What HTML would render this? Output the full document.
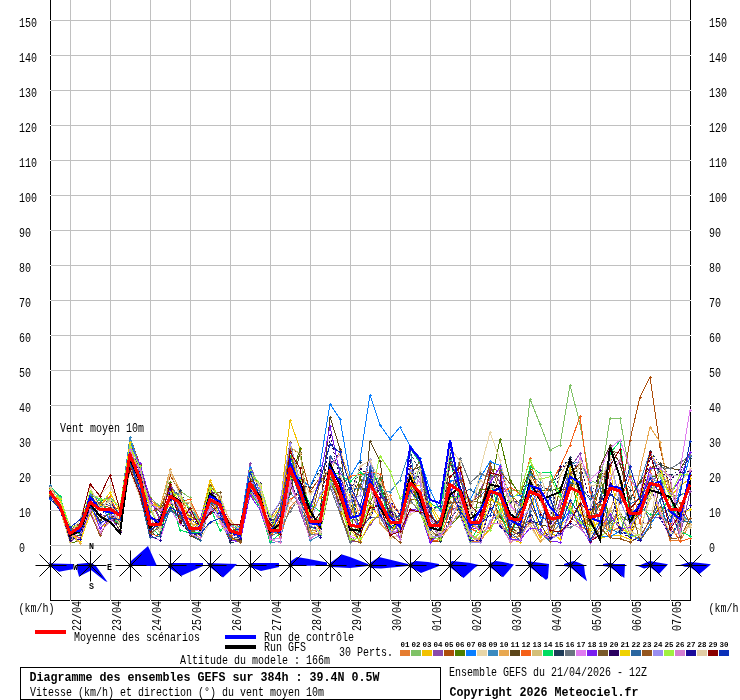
<!DOCTYPE html><html><head><meta charset="utf-8"><title>GEFS</title><style>html,body{margin:0;padding:0;background:#fff;overflow:hidden;width:740px;height:700px}svg{display:block}text{font-family:"Liberation Mono",monospace;fill:#000}</style></head><body>
<svg width="740" height="700" viewBox="0 0 740 700">
<rect x="0" y="0" width="740" height="700" fill="#fff"/>
<path d="M50 20.5H690 M50 55.5H690 M50 90.5H690 M50 125.5H690 M50 160.5H690 M50 195.5H690 M50 230.5H690 M50 265.5H690 M50 300.5H690 M50 335.5H690 M50 370.5H690 M50 405.5H690 M50 440.5H690 M50 475.5H690 M50 510.5H690 M50 545.5H690 M70.5 0V600 M110.5 0V600 M150.5 0V600 M190.5 0V600 M230.5 0V600 M270.5 0V600 M310.5 0V600 M350.5 0V600 M390.5 0V600 M430.5 0V600 M470.5 0V600 M510.5 0V600 M550.5 0V600 M590.5 0V600 M630.5 0V600 M670.5 0V600" stroke="#c0c0c0" stroke-width="1" fill="none" shape-rendering="crispEdges"/>
<path d="M50.5 0V600.5H690.5V0" stroke="#000" stroke-width="1" fill="none" shape-rendering="crispEdges"/>
<path d="M50 20h1v1h-1zM690 20h1v1h-1zM50 55h1v1h-1zM690 55h1v1h-1zM50 90h1v1h-1zM690 90h1v1h-1zM50 125h1v1h-1zM690 125h1v1h-1zM50 160h1v1h-1zM690 160h1v1h-1zM50 195h1v1h-1zM690 195h1v1h-1zM50 230h1v1h-1zM690 230h1v1h-1zM50 265h1v1h-1zM690 265h1v1h-1zM50 300h1v1h-1zM690 300h1v1h-1zM50 335h1v1h-1zM690 335h1v1h-1zM50 370h1v1h-1zM690 370h1v1h-1zM50 405h1v1h-1zM690 405h1v1h-1zM50 440h1v1h-1zM690 440h1v1h-1zM50 475h1v1h-1zM690 475h1v1h-1zM50 510h1v1h-1zM690 510h1v1h-1zM50 545h1v1h-1zM690 545h1v1h-1zM70 600h1v1h-1zM110 600h1v1h-1zM150 600h1v1h-1zM190 600h1v1h-1zM230 600h1v1h-1zM270 600h1v1h-1zM310 600h1v1h-1zM350 600h1v1h-1zM390 600h1v1h-1zM430 600h1v1h-1zM470 600h1v1h-1zM510 600h1v1h-1zM550 600h1v1h-1zM590 600h1v1h-1zM630 600h1v1h-1zM670 600h1v1h-1z" fill="#f4f4f4" shape-rendering="crispEdges"/>
<text x="19" y="552.0" font-size="12" textLength="6" lengthAdjust="spacingAndGlyphs">0</text>
<text x="709" y="552.0" font-size="12" textLength="6" lengthAdjust="spacingAndGlyphs">0</text>
<text x="19" y="517.0" font-size="12" textLength="12" lengthAdjust="spacingAndGlyphs">10</text>
<text x="709" y="517.0" font-size="12" textLength="12" lengthAdjust="spacingAndGlyphs">10</text>
<text x="19" y="482.0" font-size="12" textLength="12" lengthAdjust="spacingAndGlyphs">20</text>
<text x="709" y="482.0" font-size="12" textLength="12" lengthAdjust="spacingAndGlyphs">20</text>
<text x="19" y="447.0" font-size="12" textLength="12" lengthAdjust="spacingAndGlyphs">30</text>
<text x="709" y="447.0" font-size="12" textLength="12" lengthAdjust="spacingAndGlyphs">30</text>
<text x="19" y="412.0" font-size="12" textLength="12" lengthAdjust="spacingAndGlyphs">40</text>
<text x="709" y="412.0" font-size="12" textLength="12" lengthAdjust="spacingAndGlyphs">40</text>
<text x="19" y="377.0" font-size="12" textLength="12" lengthAdjust="spacingAndGlyphs">50</text>
<text x="709" y="377.0" font-size="12" textLength="12" lengthAdjust="spacingAndGlyphs">50</text>
<text x="19" y="342.0" font-size="12" textLength="12" lengthAdjust="spacingAndGlyphs">60</text>
<text x="709" y="342.0" font-size="12" textLength="12" lengthAdjust="spacingAndGlyphs">60</text>
<text x="19" y="307.0" font-size="12" textLength="12" lengthAdjust="spacingAndGlyphs">70</text>
<text x="709" y="307.0" font-size="12" textLength="12" lengthAdjust="spacingAndGlyphs">70</text>
<text x="19" y="272.0" font-size="12" textLength="12" lengthAdjust="spacingAndGlyphs">80</text>
<text x="709" y="272.0" font-size="12" textLength="12" lengthAdjust="spacingAndGlyphs">80</text>
<text x="19" y="237.0" font-size="12" textLength="12" lengthAdjust="spacingAndGlyphs">90</text>
<text x="709" y="237.0" font-size="12" textLength="12" lengthAdjust="spacingAndGlyphs">90</text>
<text x="19" y="202.0" font-size="12" textLength="18" lengthAdjust="spacingAndGlyphs">100</text>
<text x="709" y="202.0" font-size="12" textLength="18" lengthAdjust="spacingAndGlyphs">100</text>
<text x="19" y="167.0" font-size="12" textLength="18" lengthAdjust="spacingAndGlyphs">110</text>
<text x="709" y="167.0" font-size="12" textLength="18" lengthAdjust="spacingAndGlyphs">110</text>
<text x="19" y="132.0" font-size="12" textLength="18" lengthAdjust="spacingAndGlyphs">120</text>
<text x="709" y="132.0" font-size="12" textLength="18" lengthAdjust="spacingAndGlyphs">120</text>
<text x="19" y="97.0" font-size="12" textLength="18" lengthAdjust="spacingAndGlyphs">130</text>
<text x="709" y="97.0" font-size="12" textLength="18" lengthAdjust="spacingAndGlyphs">130</text>
<text x="19" y="62.0" font-size="12" textLength="18" lengthAdjust="spacingAndGlyphs">140</text>
<text x="709" y="62.0" font-size="12" textLength="18" lengthAdjust="spacingAndGlyphs">140</text>
<text x="19" y="27.0" font-size="12" textLength="18" lengthAdjust="spacingAndGlyphs">150</text>
<text x="709" y="27.0" font-size="12" textLength="18" lengthAdjust="spacingAndGlyphs">150</text>
<text x="60" y="432" font-size="12" textLength="84" lengthAdjust="spacingAndGlyphs">Vent moyen 10m</text>
<text x="18.5" y="611.5" font-size="12" textLength="36" lengthAdjust="spacingAndGlyphs">(km/h)</text>
<text x="708.5" y="611.5" font-size="12" textLength="36" lengthAdjust="spacingAndGlyphs">(km/h)</text>
<text transform="translate(81,631) rotate(-90)" font-size="12" textLength="30" lengthAdjust="spacingAndGlyphs">22/04</text>
<text transform="translate(121,631) rotate(-90)" font-size="12" textLength="30" lengthAdjust="spacingAndGlyphs">23/04</text>
<text transform="translate(161,631) rotate(-90)" font-size="12" textLength="30" lengthAdjust="spacingAndGlyphs">24/04</text>
<text transform="translate(201,631) rotate(-90)" font-size="12" textLength="30" lengthAdjust="spacingAndGlyphs">25/04</text>
<text transform="translate(241,631) rotate(-90)" font-size="12" textLength="30" lengthAdjust="spacingAndGlyphs">26/04</text>
<text transform="translate(281,631) rotate(-90)" font-size="12" textLength="30" lengthAdjust="spacingAndGlyphs">27/04</text>
<text transform="translate(321,631) rotate(-90)" font-size="12" textLength="30" lengthAdjust="spacingAndGlyphs">28/04</text>
<text transform="translate(361,631) rotate(-90)" font-size="12" textLength="30" lengthAdjust="spacingAndGlyphs">29/04</text>
<text transform="translate(401,631) rotate(-90)" font-size="12" textLength="30" lengthAdjust="spacingAndGlyphs">30/04</text>
<text transform="translate(441,631) rotate(-90)" font-size="12" textLength="30" lengthAdjust="spacingAndGlyphs">01/05</text>
<text transform="translate(481,631) rotate(-90)" font-size="12" textLength="30" lengthAdjust="spacingAndGlyphs">02/05</text>
<text transform="translate(521,631) rotate(-90)" font-size="12" textLength="30" lengthAdjust="spacingAndGlyphs">03/05</text>
<text transform="translate(561,631) rotate(-90)" font-size="12" textLength="30" lengthAdjust="spacingAndGlyphs">04/05</text>
<text transform="translate(601,631) rotate(-90)" font-size="12" textLength="30" lengthAdjust="spacingAndGlyphs">05/05</text>
<text transform="translate(641,631) rotate(-90)" font-size="12" textLength="30" lengthAdjust="spacingAndGlyphs">06/05</text>
<text transform="translate(681,631) rotate(-90)" font-size="12" textLength="30" lengthAdjust="spacingAndGlyphs">07/05</text>
<polyline points="50,486.8 60,500.7 70,540.2 80,534.4 90,512.1 100,515.4 110,520.3 120,513.6 130,446.5 140,464.1 150,499.4 160,507.7 170,485.1 180,508.9 190,502.2 200,523.2 210,486.1 220,497.2 230,522.1 240,540.1 250,494.9 260,503.9 270,516.9 280,537.7 290,507.0 300,496.7 310,530.2 320,531.2 330,479.5 340,474.2 350,513.1 360,510.4 370,514.9 380,498.7 390,495.6 400,515.6 410,473.0 420,507.8 430,526.9 440,519.8 450,488.0 460,515.6 470,541.3 480,541.6 490,528.5 500,513.9 510,538.8 520,535.2 530,476.0 540,512.8 550,525.6 560,503.3 570,503.6 580,526.7 590,530.4 600,500.9 610,531.8 620,527.4 630,534.7 640,499.8 650,520.4 660,508.2 670,540.6 680,540.8 690,524.2" fill="none" stroke="#e57c30" stroke-width="1" shape-rendering="crispEdges"/>
<path d="M48.5,486.8h3M50,485.3v3M58.5,500.7h3M60,499.2v3M68.5,540.2h3M70,538.7v3M78.5,534.4h3M80,532.9v3M88.5,512.1h3M90,510.6v3M98.5,515.4h3M100,513.9v3M108.5,520.3h3M110,518.8v3M118.5,513.6h3M120,512.1v3M128.5,446.5h3M130,445.0v3M138.5,464.1h3M140,462.6v3M148.5,499.4h3M150,497.9v3M158.5,507.7h3M160,506.2v3M168.5,485.1h3M170,483.6v3M178.5,508.9h3M180,507.4v3M188.5,502.2h3M190,500.7v3M198.5,523.2h3M200,521.7v3M208.5,486.1h3M210,484.6v3M218.5,497.2h3M220,495.7v3M228.5,522.1h3M230,520.6v3M238.5,540.1h3M240,538.6v3M248.5,494.9h3M250,493.4v3M258.5,503.9h3M260,502.4v3M268.5,516.9h3M270,515.4v3M278.5,537.7h3M280,536.2v3M288.5,507.0h3M290,505.5v3M298.5,496.7h3M300,495.2v3M308.5,530.2h3M310,528.7v3M318.5,531.2h3M320,529.7v3M328.5,479.5h3M330,478.0v3M338.5,474.2h3M340,472.7v3M348.5,513.1h3M350,511.6v3M358.5,510.4h3M360,508.9v3M368.5,514.9h3M370,513.4v3M378.5,498.7h3M380,497.2v3M388.5,495.6h3M390,494.1v3M398.5,515.6h3M400,514.1v3M408.5,473.0h3M410,471.5v3M418.5,507.8h3M420,506.3v3M428.5,526.9h3M430,525.4v3M438.5,519.8h3M440,518.3v3M448.5,488.0h3M450,486.5v3M458.5,515.6h3M460,514.1v3M468.5,541.3h3M470,539.8v3M478.5,541.6h3M480,540.1v3M488.5,528.5h3M490,527.0v3M498.5,513.9h3M500,512.4v3M508.5,538.8h3M510,537.3v3M518.5,535.2h3M520,533.7v3M528.5,476.0h3M530,474.5v3M538.5,512.8h3M540,511.3v3M548.5,525.6h3M550,524.1v3M558.5,503.3h3M560,501.8v3M568.5,503.6h3M570,502.1v3M578.5,526.7h3M580,525.2v3M588.5,530.4h3M590,528.9v3M598.5,500.9h3M600,499.4v3M608.5,531.8h3M610,530.3v3M618.5,527.4h3M620,525.9v3M628.5,534.7h3M630,533.2v3M638.5,499.8h3M640,498.3v3M648.5,520.4h3M650,518.9v3M658.5,508.2h3M660,506.7v3M668.5,540.6h3M670,539.1v3M678.5,540.8h3M680,539.3v3M688.5,524.2h3M690,522.7v3" stroke="#e57c30" stroke-width="1" fill="none" shape-rendering="crispEdges"/>
<polyline points="50,495.3 60,497.0 70,531.2 80,538.7 90,504.7 100,509.5 110,498.2 120,515.8 130,440.2 140,467.3 150,497.1 160,506.5 170,475.4 180,490.8 190,497.9 200,527.3 210,487.0 220,508.2 230,522.6 240,533.6 250,476.5 260,503.8 270,529.3 280,507.4 290,442.7 300,481.3 310,534.6 320,515.9 330,477.8 340,506.1 350,518.4 360,537.8 370,478.6 380,478.8 390,509.0 400,530.3 410,493.4 420,466.9 430,511.7 440,505.7 450,458.4 460,477.6 470,508.3 480,507.5 490,479.9 500,505.0 510,490.0 520,491.0 530,399.0 540,424.0 550,450.0 560,445.0 570,385.0 580,424.0 590,480.0 600,485.0 610,418.0 620,418.0 630,475.0 640,500.0 650,470.0 660,464.0 670,496.9 680,494.8 690,491.7" fill="none" stroke="#7fc266" stroke-width="1" shape-rendering="crispEdges"/>
<path d="M48.5,495.3h3M50,493.8v3M58.5,497.0h3M60,495.5v3M68.5,531.2h3M70,529.7v3M78.5,538.7h3M80,537.2v3M88.5,504.7h3M90,503.2v3M98.5,509.5h3M100,508.0v3M108.5,498.2h3M110,496.7v3M118.5,515.8h3M120,514.3v3M128.5,440.2h3M130,438.7v3M138.5,467.3h3M140,465.8v3M148.5,497.1h3M150,495.6v3M158.5,506.5h3M160,505.0v3M168.5,475.4h3M170,473.9v3M178.5,490.8h3M180,489.3v3M188.5,497.9h3M190,496.4v3M198.5,527.3h3M200,525.8v3M208.5,487.0h3M210,485.5v3M218.5,508.2h3M220,506.7v3M228.5,522.6h3M230,521.1v3M238.5,533.6h3M240,532.1v3M248.5,476.5h3M250,475.0v3M258.5,503.8h3M260,502.3v3M268.5,529.3h3M270,527.8v3M278.5,507.4h3M280,505.9v3M288.5,442.7h3M290,441.2v3M298.5,481.3h3M300,479.8v3M308.5,534.6h3M310,533.1v3M318.5,515.9h3M320,514.4v3M328.5,477.8h3M330,476.3v3M338.5,506.1h3M340,504.6v3M348.5,518.4h3M350,516.9v3M358.5,537.8h3M360,536.3v3M368.5,478.6h3M370,477.1v3M378.5,478.8h3M380,477.3v3M388.5,509.0h3M390,507.5v3M398.5,530.3h3M400,528.8v3M408.5,493.4h3M410,491.9v3M418.5,466.9h3M420,465.4v3M428.5,511.7h3M430,510.2v3M438.5,505.7h3M440,504.2v3M448.5,458.4h3M450,456.9v3M458.5,477.6h3M460,476.1v3M468.5,508.3h3M470,506.8v3M478.5,507.5h3M480,506.0v3M488.5,479.9h3M490,478.4v3M498.5,505.0h3M500,503.5v3M508.5,490.0h3M510,488.5v3M518.5,491.0h3M520,489.5v3M528.5,399.0h3M530,397.5v3M538.5,424.0h3M540,422.5v3M548.5,450.0h3M550,448.5v3M558.5,445.0h3M560,443.5v3M568.5,385.0h3M570,383.5v3M578.5,424.0h3M580,422.5v3M588.5,480.0h3M590,478.5v3M598.5,485.0h3M600,483.5v3M608.5,418.0h3M610,416.5v3M618.5,418.0h3M620,416.5v3M628.5,475.0h3M630,473.5v3M638.5,500.0h3M640,498.5v3M648.5,470.0h3M650,468.5v3M658.5,464.0h3M660,462.5v3M668.5,496.9h3M670,495.4v3M678.5,494.8h3M680,493.3v3M688.5,491.7h3M690,490.2v3" stroke="#7fc266" stroke-width="1" fill="none" shape-rendering="crispEdges"/>
<polyline points="50,486.1 60,497.8 70,526.5 80,525.4 90,506.0 100,528.4 110,520.9 120,512.6 130,447.9 140,487.0 150,533.6 160,517.0 170,504.3 180,519.1 190,527.6 200,521.4 210,480.4 220,500.4 230,538.4 240,541.5 250,486.3 260,499.8 270,520.1 280,507.4 290,420.0 300,449.0 310,534.3 320,529.8 330,466.2 340,501.8 350,494.7 360,538.0 370,505.0 380,517.8 390,524.8 400,520.5 410,485.9 420,485.6 430,505.7 440,525.6 450,506.9 460,510.6 470,535.4 480,539.0 490,530.1 500,509.4 510,538.6 520,542.5 530,517.4 540,537.8 550,526.5 560,488.6 570,507.5 580,524.1 590,511.7 600,538.5 610,535.4 620,535.6 630,539.3 640,506.6 650,485.1 660,516.1 670,496.7 680,486.0 690,478.8" fill="none" stroke="#f2c200" stroke-width="1" shape-rendering="crispEdges"/>
<path d="M48.5,486.1h3M50,484.6v3M58.5,497.8h3M60,496.3v3M68.5,526.5h3M70,525.0v3M78.5,525.4h3M80,523.9v3M88.5,506.0h3M90,504.5v3M98.5,528.4h3M100,526.9v3M108.5,520.9h3M110,519.4v3M118.5,512.6h3M120,511.1v3M128.5,447.9h3M130,446.4v3M138.5,487.0h3M140,485.5v3M148.5,533.6h3M150,532.1v3M158.5,517.0h3M160,515.5v3M168.5,504.3h3M170,502.8v3M178.5,519.1h3M180,517.6v3M188.5,527.6h3M190,526.1v3M198.5,521.4h3M200,519.9v3M208.5,480.4h3M210,478.9v3M218.5,500.4h3M220,498.9v3M228.5,538.4h3M230,536.9v3M238.5,541.5h3M240,540.0v3M248.5,486.3h3M250,484.8v3M258.5,499.8h3M260,498.3v3M268.5,520.1h3M270,518.6v3M278.5,507.4h3M280,505.9v3M288.5,420.0h3M290,418.5v3M298.5,449.0h3M300,447.5v3M308.5,534.3h3M310,532.8v3M318.5,529.8h3M320,528.3v3M328.5,466.2h3M330,464.7v3M338.5,501.8h3M340,500.3v3M348.5,494.7h3M350,493.2v3M358.5,538.0h3M360,536.5v3M368.5,505.0h3M370,503.5v3M378.5,517.8h3M380,516.3v3M388.5,524.8h3M390,523.3v3M398.5,520.5h3M400,519.0v3M408.5,485.9h3M410,484.4v3M418.5,485.6h3M420,484.1v3M428.5,505.7h3M430,504.2v3M438.5,525.6h3M440,524.1v3M448.5,506.9h3M450,505.4v3M458.5,510.6h3M460,509.1v3M468.5,535.4h3M470,533.9v3M478.5,539.0h3M480,537.5v3M488.5,530.1h3M490,528.6v3M498.5,509.4h3M500,507.9v3M508.5,538.6h3M510,537.1v3M518.5,542.5h3M520,541.0v3M528.5,517.4h3M530,515.9v3M538.5,537.8h3M540,536.3v3M548.5,526.5h3M550,525.0v3M558.5,488.6h3M560,487.1v3M568.5,507.5h3M570,506.0v3M578.5,524.1h3M580,522.6v3M588.5,511.7h3M590,510.2v3M598.5,538.5h3M600,537.0v3M608.5,535.4h3M610,533.9v3M618.5,535.6h3M620,534.1v3M628.5,539.3h3M630,537.8v3M638.5,506.6h3M640,505.1v3M648.5,485.1h3M650,483.6v3M658.5,516.1h3M660,514.6v3M668.5,496.7h3M670,495.2v3M678.5,486.0h3M680,484.5v3M688.5,478.8h3M690,477.3v3" stroke="#f2c200" stroke-width="1" fill="none" shape-rendering="crispEdges"/>
<polyline points="50,489.5 60,506.2 70,541.9 80,534.8 90,501.6 100,516.7 110,514.1 120,531.5 130,448.3 140,472.9 150,525.0 160,517.4 170,484.7 180,499.2 190,528.1 200,528.4 210,492.3 220,495.7 230,521.5 240,527.5 250,463.6 260,493.4 270,539.6 280,542.2 290,475.5 300,511.1 310,538.0 320,533.3 330,457.5 340,511.6 350,541.7 360,541.3 370,524.5 380,513.7 390,514.3 400,518.3 410,446.2 420,458.2 430,521.5 440,538.9 450,511.6 460,504.4 470,504.7 480,491.2 490,467.9 500,482.0 510,498.5 520,505.4 530,487.3 540,485.5 550,534.3 560,500.9 570,467.7 580,453.9 590,486.2 600,528.8 610,520.4 620,514.5 630,533.6 640,539.3 650,518.4 660,517.1 670,506.8 680,536.4 690,491.9" fill="none" stroke="#8a4aaa" stroke-width="1" shape-rendering="crispEdges"/>
<path d="M48.5,489.5h3M50,488.0v3M58.5,506.2h3M60,504.7v3M68.5,541.9h3M70,540.4v3M78.5,534.8h3M80,533.3v3M88.5,501.6h3M90,500.1v3M98.5,516.7h3M100,515.2v3M108.5,514.1h3M110,512.6v3M118.5,531.5h3M120,530.0v3M128.5,448.3h3M130,446.8v3M138.5,472.9h3M140,471.4v3M148.5,525.0h3M150,523.5v3M158.5,517.4h3M160,515.9v3M168.5,484.7h3M170,483.2v3M178.5,499.2h3M180,497.7v3M188.5,528.1h3M190,526.6v3M198.5,528.4h3M200,526.9v3M208.5,492.3h3M210,490.8v3M218.5,495.7h3M220,494.2v3M228.5,521.5h3M230,520.0v3M238.5,527.5h3M240,526.0v3M248.5,463.6h3M250,462.1v3M258.5,493.4h3M260,491.9v3M268.5,539.6h3M270,538.1v3M278.5,542.2h3M280,540.7v3M288.5,475.5h3M290,474.0v3M298.5,511.1h3M300,509.6v3M308.5,538.0h3M310,536.5v3M318.5,533.3h3M320,531.8v3M328.5,457.5h3M330,456.0v3M338.5,511.6h3M340,510.1v3M348.5,541.7h3M350,540.2v3M358.5,541.3h3M360,539.8v3M368.5,524.5h3M370,523.0v3M378.5,513.7h3M380,512.2v3M388.5,514.3h3M390,512.8v3M398.5,518.3h3M400,516.8v3M408.5,446.2h3M410,444.7v3M418.5,458.2h3M420,456.7v3M428.5,521.5h3M430,520.0v3M438.5,538.9h3M440,537.4v3M448.5,511.6h3M450,510.1v3M458.5,504.4h3M460,502.9v3M468.5,504.7h3M470,503.2v3M478.5,491.2h3M480,489.7v3M488.5,467.9h3M490,466.4v3M498.5,482.0h3M500,480.5v3M508.5,498.5h3M510,497.0v3M518.5,505.4h3M520,503.9v3M528.5,487.3h3M530,485.8v3M538.5,485.5h3M540,484.0v3M548.5,534.3h3M550,532.8v3M558.5,500.9h3M560,499.4v3M568.5,467.7h3M570,466.2v3M578.5,453.9h3M580,452.4v3M588.5,486.2h3M590,484.7v3M598.5,528.8h3M600,527.3v3M608.5,520.4h3M610,518.9v3M618.5,514.5h3M620,513.0v3M628.5,533.6h3M630,532.1v3M638.5,539.3h3M640,537.8v3M648.5,518.4h3M650,516.9v3M658.5,517.1h3M660,515.6v3M668.5,506.8h3M670,505.3v3M678.5,536.4h3M680,534.9v3M688.5,491.9h3M690,490.4v3" stroke="#8a4aaa" stroke-width="1" fill="none" shape-rendering="crispEdges"/>
<polyline points="50,488.9 60,504.4 70,537.5 80,537.6 90,492.0 100,504.4 110,507.8 120,509.2 130,437.3 140,464.5 150,498.8 160,520.1 170,475.0 180,492.2 190,529.9 200,535.4 210,497.2 220,521.6 230,540.4 240,541.6 250,485.0 260,505.5 270,535.2 280,525.1 290,447.4 300,454.3 310,491.6 320,477.6 330,482.7 340,500.0 350,500.5 360,479.9 370,480.6 380,486.2 390,515.1 400,521.0 410,484.8 420,505.6 430,541.3 440,541.9 450,521.6 460,460.4 470,531.3 480,515.8 490,469.5 500,470.4 510,493.9 520,504.1 530,472.8 540,493.5 550,522.3 560,518.0 570,484.9 580,483.5 590,526.2 600,484.5 610,459.5 620,500.0 630,440.0 640,397.0 650,377.0 660,447.0 670,490.0 680,503.0 690,522.9" fill="none" stroke="#ad4e0a" stroke-width="1" shape-rendering="crispEdges"/>
<path d="M48.5,488.9h3M50,487.4v3M58.5,504.4h3M60,502.9v3M68.5,537.5h3M70,536.0v3M78.5,537.6h3M80,536.1v3M88.5,492.0h3M90,490.5v3M98.5,504.4h3M100,502.9v3M108.5,507.8h3M110,506.3v3M118.5,509.2h3M120,507.7v3M128.5,437.3h3M130,435.8v3M138.5,464.5h3M140,463.0v3M148.5,498.8h3M150,497.3v3M158.5,520.1h3M160,518.6v3M168.5,475.0h3M170,473.5v3M178.5,492.2h3M180,490.7v3M188.5,529.9h3M190,528.4v3M198.5,535.4h3M200,533.9v3M208.5,497.2h3M210,495.7v3M218.5,521.6h3M220,520.1v3M228.5,540.4h3M230,538.9v3M238.5,541.6h3M240,540.1v3M248.5,485.0h3M250,483.5v3M258.5,505.5h3M260,504.0v3M268.5,535.2h3M270,533.7v3M278.5,525.1h3M280,523.6v3M288.5,447.4h3M290,445.9v3M298.5,454.3h3M300,452.8v3M308.5,491.6h3M310,490.1v3M318.5,477.6h3M320,476.1v3M328.5,482.7h3M330,481.2v3M338.5,500.0h3M340,498.5v3M348.5,500.5h3M350,499.0v3M358.5,479.9h3M360,478.4v3M368.5,480.6h3M370,479.1v3M378.5,486.2h3M380,484.7v3M388.5,515.1h3M390,513.6v3M398.5,521.0h3M400,519.5v3M408.5,484.8h3M410,483.3v3M418.5,505.6h3M420,504.1v3M428.5,541.3h3M430,539.8v3M438.5,541.9h3M440,540.4v3M448.5,521.6h3M450,520.1v3M458.5,460.4h3M460,458.9v3M468.5,531.3h3M470,529.8v3M478.5,515.8h3M480,514.3v3M488.5,469.5h3M490,468.0v3M498.5,470.4h3M500,468.9v3M508.5,493.9h3M510,492.4v3M518.5,504.1h3M520,502.6v3M528.5,472.8h3M530,471.3v3M538.5,493.5h3M540,492.0v3M548.5,522.3h3M550,520.8v3M558.5,518.0h3M560,516.5v3M568.5,484.9h3M570,483.4v3M578.5,483.5h3M580,482.0v3M588.5,526.2h3M590,524.7v3M598.5,484.5h3M600,483.0v3M608.5,459.5h3M610,458.0v3M618.5,500.0h3M620,498.5v3M628.5,440.0h3M630,438.5v3M638.5,397.0h3M640,395.5v3M648.5,377.0h3M650,375.5v3M658.5,447.0h3M660,445.5v3M668.5,490.0h3M670,488.5v3M678.5,503.0h3M680,501.5v3M688.5,522.9h3M690,521.4v3" stroke="#ad4e0a" stroke-width="1" fill="none" shape-rendering="crispEdges"/>
<polyline points="50,493.2 60,502.7 70,542.9 80,541.2 90,493.3 100,508.9 110,500.3 120,523.7 130,443.4 140,467.2 150,499.9 160,517.6 170,482.7 180,512.5 190,524.7 200,540.5 210,506.9 220,500.9 230,531.8 240,526.8 250,474.3 260,484.3 270,524.7 280,534.1 290,481.7 300,448.9 310,521.1 320,527.1 330,477.0 340,477.8 350,538.2 360,476.2 370,517.0 380,482.0 390,516.7 400,533.4 410,474.1 420,510.7 430,534.3 440,540.2 450,526.4 460,515.4 470,537.6 480,489.4 490,490.0 500,439.0 510,480.0 520,495.0 530,469.4 540,490.2 550,490.9 560,487.9 570,469.4 580,521.0 590,525.5 600,474.3 610,523.0 620,514.3 630,522.7 640,515.1 650,477.1 660,475.0 670,515.5 680,517.4 690,524.4" fill="none" stroke="#4f7f00" stroke-width="1" shape-rendering="crispEdges"/>
<path d="M48.5,493.2h3M50,491.7v3M58.5,502.7h3M60,501.2v3M68.5,542.9h3M70,541.4v3M78.5,541.2h3M80,539.7v3M88.5,493.3h3M90,491.8v3M98.5,508.9h3M100,507.4v3M108.5,500.3h3M110,498.8v3M118.5,523.7h3M120,522.2v3M128.5,443.4h3M130,441.9v3M138.5,467.2h3M140,465.7v3M148.5,499.9h3M150,498.4v3M158.5,517.6h3M160,516.1v3M168.5,482.7h3M170,481.2v3M178.5,512.5h3M180,511.0v3M188.5,524.7h3M190,523.2v3M198.5,540.5h3M200,539.0v3M208.5,506.9h3M210,505.4v3M218.5,500.9h3M220,499.4v3M228.5,531.8h3M230,530.3v3M238.5,526.8h3M240,525.3v3M248.5,474.3h3M250,472.8v3M258.5,484.3h3M260,482.8v3M268.5,524.7h3M270,523.2v3M278.5,534.1h3M280,532.6v3M288.5,481.7h3M290,480.2v3M298.5,448.9h3M300,447.4v3M308.5,521.1h3M310,519.6v3M318.5,527.1h3M320,525.6v3M328.5,477.0h3M330,475.5v3M338.5,477.8h3M340,476.3v3M348.5,538.2h3M350,536.7v3M358.5,476.2h3M360,474.7v3M368.5,517.0h3M370,515.5v3M378.5,482.0h3M380,480.5v3M388.5,516.7h3M390,515.2v3M398.5,533.4h3M400,531.9v3M408.5,474.1h3M410,472.6v3M418.5,510.7h3M420,509.2v3M428.5,534.3h3M430,532.8v3M438.5,540.2h3M440,538.7v3M448.5,526.4h3M450,524.9v3M458.5,515.4h3M460,513.9v3M468.5,537.6h3M470,536.1v3M478.5,489.4h3M480,487.9v3M488.5,490.0h3M490,488.5v3M498.5,439.0h3M500,437.5v3M508.5,480.0h3M510,478.5v3M518.5,495.0h3M520,493.5v3M528.5,469.4h3M530,467.9v3M538.5,490.2h3M540,488.7v3M548.5,490.9h3M550,489.4v3M558.5,487.9h3M560,486.4v3M568.5,469.4h3M570,467.9v3M578.5,521.0h3M580,519.5v3M588.5,525.5h3M590,524.0v3M598.5,474.3h3M600,472.8v3M608.5,523.0h3M610,521.5v3M618.5,514.3h3M620,512.8v3M628.5,522.7h3M630,521.2v3M638.5,515.1h3M640,513.6v3M648.5,477.1h3M650,475.6v3M658.5,475.0h3M660,473.5v3M668.5,515.5h3M670,514.0v3M678.5,517.4h3M680,515.9v3M688.5,524.4h3M690,522.9v3" stroke="#4f7f00" stroke-width="1" fill="none" shape-rendering="crispEdges"/>
<polyline points="50,499.7 60,499.1 70,529.5 80,524.2 90,502.2 100,503.2 110,520.6 120,513.4 130,437.0 140,473.0 150,506.1 160,528.7 170,508.5 180,516.1 190,535.0 200,537.5 210,507.8 220,513.2 230,523.9 240,526.9 250,467.6 260,491.5 270,531.7 280,533.1 290,470.0 300,478.0 310,487.0 320,465.0 330,404.0 340,419.0 350,477.0 360,460.0 370,395.0 380,425.0 390,439.0 400,427.0 410,446.0 420,458.0 430,490.0 440,510.7 450,481.3 460,478.3 470,500.6 480,478.1 490,461.6 500,465.5 510,496.4 520,495.6 530,481.1 540,517.5 550,519.8 560,525.2 570,510.0 580,521.6 590,530.9 600,536.5 610,537.0 620,531.0 630,534.2 640,539.8 650,524.8 660,510.6 670,524.9 680,489.6 690,456.7" fill="none" stroke="#0a7fff" stroke-width="1" shape-rendering="crispEdges"/>
<path d="M48.5,499.7h3M50,498.2v3M58.5,499.1h3M60,497.6v3M68.5,529.5h3M70,528.0v3M78.5,524.2h3M80,522.7v3M88.5,502.2h3M90,500.7v3M98.5,503.2h3M100,501.7v3M108.5,520.6h3M110,519.1v3M118.5,513.4h3M120,511.9v3M128.5,437.0h3M130,435.5v3M138.5,473.0h3M140,471.5v3M148.5,506.1h3M150,504.6v3M158.5,528.7h3M160,527.2v3M168.5,508.5h3M170,507.0v3M178.5,516.1h3M180,514.6v3M188.5,535.0h3M190,533.5v3M198.5,537.5h3M200,536.0v3M208.5,507.8h3M210,506.3v3M218.5,513.2h3M220,511.7v3M228.5,523.9h3M230,522.4v3M238.5,526.9h3M240,525.4v3M248.5,467.6h3M250,466.1v3M258.5,491.5h3M260,490.0v3M268.5,531.7h3M270,530.2v3M278.5,533.1h3M280,531.6v3M288.5,470.0h3M290,468.5v3M298.5,478.0h3M300,476.5v3M308.5,487.0h3M310,485.5v3M318.5,465.0h3M320,463.5v3M328.5,404.0h3M330,402.5v3M338.5,419.0h3M340,417.5v3M348.5,477.0h3M350,475.5v3M358.5,460.0h3M360,458.5v3M368.5,395.0h3M370,393.5v3M378.5,425.0h3M380,423.5v3M388.5,439.0h3M390,437.5v3M398.5,427.0h3M400,425.5v3M408.5,446.0h3M410,444.5v3M418.5,458.0h3M420,456.5v3M428.5,490.0h3M430,488.5v3M438.5,510.7h3M440,509.2v3M448.5,481.3h3M450,479.8v3M458.5,478.3h3M460,476.8v3M468.5,500.6h3M470,499.1v3M478.5,478.1h3M480,476.6v3M488.5,461.6h3M490,460.1v3M498.5,465.5h3M500,464.0v3M508.5,496.4h3M510,494.9v3M518.5,495.6h3M520,494.1v3M528.5,481.1h3M530,479.6v3M538.5,517.5h3M540,516.0v3M548.5,519.8h3M550,518.3v3M558.5,525.2h3M560,523.7v3M568.5,510.0h3M570,508.5v3M578.5,521.6h3M580,520.1v3M588.5,530.9h3M590,529.4v3M598.5,536.5h3M600,535.0v3M608.5,537.0h3M610,535.5v3M618.5,531.0h3M620,529.5v3M628.5,534.2h3M630,532.7v3M638.5,539.8h3M640,538.3v3M648.5,524.8h3M650,523.3v3M658.5,510.6h3M660,509.1v3M668.5,524.9h3M670,523.4v3M678.5,489.6h3M680,488.1v3M688.5,456.7h3M690,455.2v3" stroke="#0a7fff" stroke-width="1" fill="none" shape-rendering="crispEdges"/>
<polyline points="50,486.7 60,496.7 70,529.7 80,532.0 90,503.2 100,494.7 110,485.0 120,506.8 130,451.6 140,492.9 150,535.3 160,525.7 170,501.1 180,512.2 190,520.5 200,540.0 210,522.2 220,523.8 230,538.7 240,538.6 250,484.1 260,493.7 270,519.8 280,511.5 290,448.6 300,473.1 310,494.6 320,483.8 330,470.1 340,502.9 350,536.4 360,534.6 370,475.3 380,489.6 390,538.3 400,535.3 410,514.2 420,510.0 430,539.5 440,532.7 450,457.8 460,505.0 470,520.0 480,471.0 490,432.0 500,460.0 510,500.0 520,528.3 530,526.2 540,541.7 550,536.6 560,510.4 570,508.2 580,514.0 590,508.4 600,529.1 610,524.3 620,532.0 630,528.2 640,522.9 650,523.8 660,467.4 670,514.9 680,483.9 690,468.9" fill="none" stroke="#e8d6a8" stroke-width="1" shape-rendering="crispEdges"/>
<path d="M48.5,486.7h3M50,485.2v3M58.5,496.7h3M60,495.2v3M68.5,529.7h3M70,528.2v3M78.5,532.0h3M80,530.5v3M88.5,503.2h3M90,501.7v3M98.5,494.7h3M100,493.2v3M108.5,485.0h3M110,483.5v3M118.5,506.8h3M120,505.3v3M128.5,451.6h3M130,450.1v3M138.5,492.9h3M140,491.4v3M148.5,535.3h3M150,533.8v3M158.5,525.7h3M160,524.2v3M168.5,501.1h3M170,499.6v3M178.5,512.2h3M180,510.7v3M188.5,520.5h3M190,519.0v3M198.5,540.0h3M200,538.5v3M208.5,522.2h3M210,520.7v3M218.5,523.8h3M220,522.3v3M228.5,538.7h3M230,537.2v3M238.5,538.6h3M240,537.1v3M248.5,484.1h3M250,482.6v3M258.5,493.7h3M260,492.2v3M268.5,519.8h3M270,518.3v3M278.5,511.5h3M280,510.0v3M288.5,448.6h3M290,447.1v3M298.5,473.1h3M300,471.6v3M308.5,494.6h3M310,493.1v3M318.5,483.8h3M320,482.3v3M328.5,470.1h3M330,468.6v3M338.5,502.9h3M340,501.4v3M348.5,536.4h3M350,534.9v3M358.5,534.6h3M360,533.1v3M368.5,475.3h3M370,473.8v3M378.5,489.6h3M380,488.1v3M388.5,538.3h3M390,536.8v3M398.5,535.3h3M400,533.8v3M408.5,514.2h3M410,512.7v3M418.5,510.0h3M420,508.5v3M428.5,539.5h3M430,538.0v3M438.5,532.7h3M440,531.2v3M448.5,457.8h3M450,456.3v3M458.5,505.0h3M460,503.5v3M468.5,520.0h3M470,518.5v3M478.5,471.0h3M480,469.5v3M488.5,432.0h3M490,430.5v3M498.5,460.0h3M500,458.5v3M508.5,500.0h3M510,498.5v3M518.5,528.3h3M520,526.8v3M528.5,526.2h3M530,524.7v3M538.5,541.7h3M540,540.2v3M548.5,536.6h3M550,535.1v3M558.5,510.4h3M560,508.9v3M568.5,508.2h3M570,506.7v3M578.5,514.0h3M580,512.5v3M588.5,508.4h3M590,506.9v3M598.5,529.1h3M600,527.6v3M608.5,524.3h3M610,522.8v3M618.5,532.0h3M620,530.5v3M628.5,528.2h3M630,526.7v3M638.5,522.9h3M640,521.4v3M648.5,523.8h3M650,522.3v3M658.5,467.4h3M660,465.9v3M668.5,514.9h3M670,513.4v3M678.5,483.9h3M680,482.4v3M688.5,468.9h3M690,467.4v3" stroke="#e8d6a8" stroke-width="1" fill="none" shape-rendering="crispEdges"/>
<polyline points="50,485.5 60,497.3 70,532.4 80,527.1 90,494.1 100,500.5 110,496.7 120,509.7 130,437.3 140,467.1 150,504.0 160,505.9 170,489.6 180,495.8 190,508.4 200,520.8 210,490.3 220,518.5 230,540.5 240,539.2 250,488.9 260,504.4 270,542.2 280,541.8 290,492.6 300,503.4 310,540.6 320,535.5 330,479.8 340,496.8 350,488.0 360,488.0 370,460.0 380,490.0 390,492.0 400,480.0 410,450.0 420,513.6 430,520.9 440,521.8 450,453.3 460,492.0 470,531.4 480,525.0 490,509.9 500,521.2 510,537.4 520,501.8 530,474.3 540,482.8 550,537.5 560,522.2 570,464.3 580,461.8 590,482.9 600,525.3 610,531.1 620,502.2 630,499.8 640,482.3 650,452.1 660,475.0 670,510.7 680,512.8 690,522.1" fill="none" stroke="#3a8abf" stroke-width="1" shape-rendering="crispEdges"/>
<path d="M48.5,485.5h3M50,484.0v3M58.5,497.3h3M60,495.8v3M68.5,532.4h3M70,530.9v3M78.5,527.1h3M80,525.6v3M88.5,494.1h3M90,492.6v3M98.5,500.5h3M100,499.0v3M108.5,496.7h3M110,495.2v3M118.5,509.7h3M120,508.2v3M128.5,437.3h3M130,435.8v3M138.5,467.1h3M140,465.6v3M148.5,504.0h3M150,502.5v3M158.5,505.9h3M160,504.4v3M168.5,489.6h3M170,488.1v3M178.5,495.8h3M180,494.3v3M188.5,508.4h3M190,506.9v3M198.5,520.8h3M200,519.3v3M208.5,490.3h3M210,488.8v3M218.5,518.5h3M220,517.0v3M228.5,540.5h3M230,539.0v3M238.5,539.2h3M240,537.7v3M248.5,488.9h3M250,487.4v3M258.5,504.4h3M260,502.9v3M268.5,542.2h3M270,540.7v3M278.5,541.8h3M280,540.3v3M288.5,492.6h3M290,491.1v3M298.5,503.4h3M300,501.9v3M308.5,540.6h3M310,539.1v3M318.5,535.5h3M320,534.0v3M328.5,479.8h3M330,478.3v3M338.5,496.8h3M340,495.3v3M348.5,488.0h3M350,486.5v3M358.5,488.0h3M360,486.5v3M368.5,460.0h3M370,458.5v3M378.5,490.0h3M380,488.5v3M388.5,492.0h3M390,490.5v3M398.5,480.0h3M400,478.5v3M408.5,450.0h3M410,448.5v3M418.5,513.6h3M420,512.1v3M428.5,520.9h3M430,519.4v3M438.5,521.8h3M440,520.3v3M448.5,453.3h3M450,451.8v3M458.5,492.0h3M460,490.5v3M468.5,531.4h3M470,529.9v3M478.5,525.0h3M480,523.5v3M488.5,509.9h3M490,508.4v3M498.5,521.2h3M500,519.7v3M508.5,537.4h3M510,535.9v3M518.5,501.8h3M520,500.3v3M528.5,474.3h3M530,472.8v3M538.5,482.8h3M540,481.3v3M548.5,537.5h3M550,536.0v3M558.5,522.2h3M560,520.7v3M568.5,464.3h3M570,462.8v3M578.5,461.8h3M580,460.3v3M588.5,482.9h3M590,481.4v3M598.5,525.3h3M600,523.8v3M608.5,531.1h3M610,529.6v3M618.5,502.2h3M620,500.7v3M628.5,499.8h3M630,498.3v3M638.5,482.3h3M640,480.8v3M648.5,452.1h3M650,450.6v3M658.5,475.0h3M660,473.5v3M668.5,510.7h3M670,509.2v3M678.5,512.8h3M680,511.3v3M688.5,522.1h3M690,520.6v3" stroke="#3a8abf" stroke-width="1" fill="none" shape-rendering="crispEdges"/>
<polyline points="50,487.7 60,505.7 70,534.3 80,543.1 90,511.7 100,533.3 110,520.4 120,520.5 130,466.5 140,490.6 150,503.0 160,508.0 170,469.9 180,490.6 190,521.6 200,530.9 210,502.0 220,498.3 230,520.2 240,529.2 250,490.6 260,493.9 270,518.8 280,502.1 290,448.0 300,488.8 310,532.1 320,534.5 330,472.9 340,450.5 350,480.2 360,520.1 370,471.2 380,523.3 390,533.7 400,518.3 410,491.1 420,490.7 430,537.2 440,539.9 450,526.7 460,509.7 470,533.8 480,540.0 490,506.8 500,521.1 510,542.2 520,535.4 530,523.5 540,541.2 550,533.7 560,525.5 570,517.0 580,524.6 590,517.7 600,537.1 610,510.9 620,480.9 630,526.6 640,470.0 650,427.0 660,442.0 670,495.0 680,534.9 690,524.5" fill="none" stroke="#e8a850" stroke-width="1" shape-rendering="crispEdges"/>
<path d="M48.5,487.7h3M50,486.2v3M58.5,505.7h3M60,504.2v3M68.5,534.3h3M70,532.8v3M78.5,543.1h3M80,541.6v3M88.5,511.7h3M90,510.2v3M98.5,533.3h3M100,531.8v3M108.5,520.4h3M110,518.9v3M118.5,520.5h3M120,519.0v3M128.5,466.5h3M130,465.0v3M138.5,490.6h3M140,489.1v3M148.5,503.0h3M150,501.5v3M158.5,508.0h3M160,506.5v3M168.5,469.9h3M170,468.4v3M178.5,490.6h3M180,489.1v3M188.5,521.6h3M190,520.1v3M198.5,530.9h3M200,529.4v3M208.5,502.0h3M210,500.5v3M218.5,498.3h3M220,496.8v3M228.5,520.2h3M230,518.7v3M238.5,529.2h3M240,527.7v3M248.5,490.6h3M250,489.1v3M258.5,493.9h3M260,492.4v3M268.5,518.8h3M270,517.3v3M278.5,502.1h3M280,500.6v3M288.5,448.0h3M290,446.5v3M298.5,488.8h3M300,487.3v3M308.5,532.1h3M310,530.6v3M318.5,534.5h3M320,533.0v3M328.5,472.9h3M330,471.4v3M338.5,450.5h3M340,449.0v3M348.5,480.2h3M350,478.7v3M358.5,520.1h3M360,518.6v3M368.5,471.2h3M370,469.7v3M378.5,523.3h3M380,521.8v3M388.5,533.7h3M390,532.2v3M398.5,518.3h3M400,516.8v3M408.5,491.1h3M410,489.6v3M418.5,490.7h3M420,489.2v3M428.5,537.2h3M430,535.7v3M438.5,539.9h3M440,538.4v3M448.5,526.7h3M450,525.2v3M458.5,509.7h3M460,508.2v3M468.5,533.8h3M470,532.3v3M478.5,540.0h3M480,538.5v3M488.5,506.8h3M490,505.3v3M498.5,521.1h3M500,519.6v3M508.5,542.2h3M510,540.7v3M518.5,535.4h3M520,533.9v3M528.5,523.5h3M530,522.0v3M538.5,541.2h3M540,539.7v3M548.5,533.7h3M550,532.2v3M558.5,525.5h3M560,524.0v3M568.5,517.0h3M570,515.5v3M578.5,524.6h3M580,523.1v3M588.5,517.7h3M590,516.2v3M598.5,537.1h3M600,535.6v3M608.5,510.9h3M610,509.4v3M618.5,480.9h3M620,479.4v3M628.5,526.6h3M630,525.1v3M638.5,470.0h3M640,468.5v3M648.5,427.0h3M650,425.5v3M658.5,442.0h3M660,440.5v3M668.5,495.0h3M670,493.5v3M678.5,534.9h3M680,533.4v3M688.5,524.5h3M690,523.0v3" stroke="#e8a850" stroke-width="1" fill="none" shape-rendering="crispEdges"/>
<polyline points="50,491.1 60,503.3 70,536.7 80,537.4 90,505.8 100,520.2 110,513.1 120,526.3 130,455.0 140,465.7 150,503.8 160,511.7 170,490.9 180,515.5 190,535.3 200,540.2 210,504.6 220,515.9 230,538.0 240,540.5 250,478.5 260,483.6 270,520.6 280,516.2 290,493.8 300,452.4 310,527.8 320,513.1 330,417.0 340,449.0 350,525.0 360,541.3 370,441.0 380,461.0 390,528.6 400,522.8 410,470.9 420,466.6 430,539.5 440,533.3 450,496.7 460,495.8 470,511.1 480,528.2 490,493.1 500,517.7 510,526.3 520,534.4 530,521.4 540,524.7 550,526.8 560,490.2 570,487.7 580,477.1 590,523.3 600,466.8 610,445.6 620,464.0 630,498.8 640,481.8 650,468.0 660,463.9 670,468.7 680,469.4 690,452.7" fill="none" stroke="#5c4518" stroke-width="1" shape-rendering="crispEdges"/>
<path d="M48.5,491.1h3M50,489.6v3M58.5,503.3h3M60,501.8v3M68.5,536.7h3M70,535.2v3M78.5,537.4h3M80,535.9v3M88.5,505.8h3M90,504.3v3M98.5,520.2h3M100,518.7v3M108.5,513.1h3M110,511.6v3M118.5,526.3h3M120,524.8v3M128.5,455.0h3M130,453.5v3M138.5,465.7h3M140,464.2v3M148.5,503.8h3M150,502.3v3M158.5,511.7h3M160,510.2v3M168.5,490.9h3M170,489.4v3M178.5,515.5h3M180,514.0v3M188.5,535.3h3M190,533.8v3M198.5,540.2h3M200,538.7v3M208.5,504.6h3M210,503.1v3M218.5,515.9h3M220,514.4v3M228.5,538.0h3M230,536.5v3M238.5,540.5h3M240,539.0v3M248.5,478.5h3M250,477.0v3M258.5,483.6h3M260,482.1v3M268.5,520.6h3M270,519.1v3M278.5,516.2h3M280,514.7v3M288.5,493.8h3M290,492.3v3M298.5,452.4h3M300,450.9v3M308.5,527.8h3M310,526.3v3M318.5,513.1h3M320,511.6v3M328.5,417.0h3M330,415.5v3M338.5,449.0h3M340,447.5v3M348.5,525.0h3M350,523.5v3M358.5,541.3h3M360,539.8v3M368.5,441.0h3M370,439.5v3M378.5,461.0h3M380,459.5v3M388.5,528.6h3M390,527.1v3M398.5,522.8h3M400,521.3v3M408.5,470.9h3M410,469.4v3M418.5,466.6h3M420,465.1v3M428.5,539.5h3M430,538.0v3M438.5,533.3h3M440,531.8v3M448.5,496.7h3M450,495.2v3M458.5,495.8h3M460,494.3v3M468.5,511.1h3M470,509.6v3M478.5,528.2h3M480,526.7v3M488.5,493.1h3M490,491.6v3M498.5,517.7h3M500,516.2v3M508.5,526.3h3M510,524.8v3M518.5,534.4h3M520,532.9v3M528.5,521.4h3M530,519.9v3M538.5,524.7h3M540,523.2v3M548.5,526.8h3M550,525.3v3M558.5,490.2h3M560,488.7v3M568.5,487.7h3M570,486.2v3M578.5,477.1h3M580,475.6v3M588.5,523.3h3M590,521.8v3M598.5,466.8h3M600,465.3v3M608.5,445.6h3M610,444.1v3M618.5,464.0h3M620,462.5v3M628.5,498.8h3M630,497.3v3M638.5,481.8h3M640,480.3v3M648.5,468.0h3M650,466.5v3M658.5,463.9h3M660,462.4v3M668.5,468.7h3M670,467.2v3M678.5,469.4h3M680,467.9v3M688.5,452.7h3M690,451.2v3" stroke="#5c4518" stroke-width="1" fill="none" shape-rendering="crispEdges"/>
<polyline points="50,494.1 60,500.5 70,533.4 80,537.8 90,498.4 100,504.7 110,496.7 120,518.4 130,451.7 140,484.2 150,533.4 160,536.9 170,496.4 180,500.6 190,499.8 200,520.4 210,495.6 220,500.8 230,535.6 240,535.4 250,489.8 260,507.6 270,538.6 280,518.5 290,499.8 300,492.7 310,515.4 320,529.8 330,471.4 340,488.0 350,476.5 360,474.4 370,471.7 380,474.3 390,503.1 400,514.3 410,468.8 420,496.8 430,540.1 440,541.2 450,508.9 460,493.6 470,528.2 480,533.4 490,527.0 500,494.4 510,487.2 520,493.6 530,458.8 540,500.0 550,485.0 560,467.0 570,445.0 580,416.0 590,492.0 600,510.0 610,537.1 620,501.2 630,476.8 640,523.5 650,467.9 660,516.9 670,523.9 680,541.7 690,538.4" fill="none" stroke="#f56018" stroke-width="1" shape-rendering="crispEdges"/>
<path d="M48.5,494.1h3M50,492.6v3M58.5,500.5h3M60,499.0v3M68.5,533.4h3M70,531.9v3M78.5,537.8h3M80,536.3v3M88.5,498.4h3M90,496.9v3M98.5,504.7h3M100,503.2v3M108.5,496.7h3M110,495.2v3M118.5,518.4h3M120,516.9v3M128.5,451.7h3M130,450.2v3M138.5,484.2h3M140,482.7v3M148.5,533.4h3M150,531.9v3M158.5,536.9h3M160,535.4v3M168.5,496.4h3M170,494.9v3M178.5,500.6h3M180,499.1v3M188.5,499.8h3M190,498.3v3M198.5,520.4h3M200,518.9v3M208.5,495.6h3M210,494.1v3M218.5,500.8h3M220,499.3v3M228.5,535.6h3M230,534.1v3M238.5,535.4h3M240,533.9v3M248.5,489.8h3M250,488.3v3M258.5,507.6h3M260,506.1v3M268.5,538.6h3M270,537.1v3M278.5,518.5h3M280,517.0v3M288.5,499.8h3M290,498.3v3M298.5,492.7h3M300,491.2v3M308.5,515.4h3M310,513.9v3M318.5,529.8h3M320,528.3v3M328.5,471.4h3M330,469.9v3M338.5,488.0h3M340,486.5v3M348.5,476.5h3M350,475.0v3M358.5,474.4h3M360,472.9v3M368.5,471.7h3M370,470.2v3M378.5,474.3h3M380,472.8v3M388.5,503.1h3M390,501.6v3M398.5,514.3h3M400,512.8v3M408.5,468.8h3M410,467.3v3M418.5,496.8h3M420,495.3v3M428.5,540.1h3M430,538.6v3M438.5,541.2h3M440,539.7v3M448.5,508.9h3M450,507.4v3M458.5,493.6h3M460,492.1v3M468.5,528.2h3M470,526.7v3M478.5,533.4h3M480,531.9v3M488.5,527.0h3M490,525.5v3M498.5,494.4h3M500,492.9v3M508.5,487.2h3M510,485.7v3M518.5,493.6h3M520,492.1v3M528.5,458.8h3M530,457.3v3M538.5,500.0h3M540,498.5v3M548.5,485.0h3M550,483.5v3M558.5,467.0h3M560,465.5v3M568.5,445.0h3M570,443.5v3M578.5,416.0h3M580,414.5v3M588.5,492.0h3M590,490.5v3M598.5,510.0h3M600,508.5v3M608.5,537.1h3M610,535.6v3M618.5,501.2h3M620,499.7v3M628.5,476.8h3M630,475.3v3M638.5,523.5h3M640,522.0v3M648.5,467.9h3M650,466.4v3M658.5,516.9h3M660,515.4v3M668.5,523.9h3M670,522.4v3M678.5,541.7h3M680,540.2v3M688.5,538.4h3M690,536.9v3" stroke="#f56018" stroke-width="1" fill="none" shape-rendering="crispEdges"/>
<polyline points="50,495.4 60,509.6 70,542.3 80,524.6 90,508.1 100,509.4 110,499.4 120,523.3 130,455.0 140,466.5 150,517.0 160,533.1 170,497.9 180,502.0 190,502.6 200,521.6 210,494.6 220,518.1 230,531.3 240,537.6 250,489.4 260,489.8 270,520.9 280,529.3 290,446.7 300,453.8 310,517.0 320,474.5 330,471.8 340,474.3 350,505.1 360,530.2 370,515.4 380,478.2 390,508.5 400,526.7 410,502.7 420,507.4 430,532.7 440,534.7 450,501.9 460,511.6 470,542.3 480,536.8 490,488.0 500,524.5 510,539.8 520,526.2 530,477.1 540,500.6 550,525.8 560,475.3 570,459.2 580,499.6 590,533.5 600,531.5 610,508.6 620,529.8 630,525.0 640,529.4 650,498.8 660,473.5 670,485.3 680,511.0 690,527.8" fill="none" stroke="#d4bf78" stroke-width="1" shape-rendering="crispEdges"/>
<path d="M48.5,495.4h3M50,493.9v3M58.5,509.6h3M60,508.1v3M68.5,542.3h3M70,540.8v3M78.5,524.6h3M80,523.1v3M88.5,508.1h3M90,506.6v3M98.5,509.4h3M100,507.9v3M108.5,499.4h3M110,497.9v3M118.5,523.3h3M120,521.8v3M128.5,455.0h3M130,453.5v3M138.5,466.5h3M140,465.0v3M148.5,517.0h3M150,515.5v3M158.5,533.1h3M160,531.6v3M168.5,497.9h3M170,496.4v3M178.5,502.0h3M180,500.5v3M188.5,502.6h3M190,501.1v3M198.5,521.6h3M200,520.1v3M208.5,494.6h3M210,493.1v3M218.5,518.1h3M220,516.6v3M228.5,531.3h3M230,529.8v3M238.5,537.6h3M240,536.1v3M248.5,489.4h3M250,487.9v3M258.5,489.8h3M260,488.3v3M268.5,520.9h3M270,519.4v3M278.5,529.3h3M280,527.8v3M288.5,446.7h3M290,445.2v3M298.5,453.8h3M300,452.3v3M308.5,517.0h3M310,515.5v3M318.5,474.5h3M320,473.0v3M328.5,471.8h3M330,470.3v3M338.5,474.3h3M340,472.8v3M348.5,505.1h3M350,503.6v3M358.5,530.2h3M360,528.7v3M368.5,515.4h3M370,513.9v3M378.5,478.2h3M380,476.7v3M388.5,508.5h3M390,507.0v3M398.5,526.7h3M400,525.2v3M408.5,502.7h3M410,501.2v3M418.5,507.4h3M420,505.9v3M428.5,532.7h3M430,531.2v3M438.5,534.7h3M440,533.2v3M448.5,501.9h3M450,500.4v3M458.5,511.6h3M460,510.1v3M468.5,542.3h3M470,540.8v3M478.5,536.8h3M480,535.3v3M488.5,488.0h3M490,486.5v3M498.5,524.5h3M500,523.0v3M508.5,539.8h3M510,538.3v3M518.5,526.2h3M520,524.7v3M528.5,477.1h3M530,475.6v3M538.5,500.6h3M540,499.1v3M548.5,525.8h3M550,524.3v3M558.5,475.3h3M560,473.8v3M568.5,459.2h3M570,457.7v3M578.5,499.6h3M580,498.1v3M588.5,533.5h3M590,532.0v3M598.5,531.5h3M600,530.0v3M608.5,508.6h3M610,507.1v3M618.5,529.8h3M620,528.3v3M628.5,525.0h3M630,523.5v3M638.5,529.4h3M640,527.9v3M648.5,498.8h3M650,497.3v3M658.5,473.5h3M660,472.0v3M668.5,485.3h3M670,483.8v3M678.5,511.0h3M680,509.5v3M688.5,527.8h3M690,526.3v3" stroke="#d4bf78" stroke-width="1" fill="none" shape-rendering="crispEdges"/>
<polyline points="50,486.3 60,496.0 70,532.6 80,533.7 90,506.6 100,498.8 110,516.2 120,524.8 130,444.6 140,484.1 150,526.0 160,535.7 170,497.0 180,530.1 190,533.0 200,532.4 210,507.3 220,530.4 230,522.5 240,529.6 250,490.7 260,507.8 270,541.8 280,533.8 290,456.2 300,484.7 310,504.2 320,511.3 330,471.5 340,474.3 350,481.7 360,472.3 370,479.2 380,478.7 390,532.8 400,518.3 410,448.0 420,463.0 430,503.2 440,508.6 450,459.9 460,500.4 470,540.6 480,525.9 490,482.0 500,512.4 510,536.1 520,513.0 530,466.5 540,473.2 550,472.0 560,494.4 570,513.0 580,488.2 590,521.9 600,504.8 610,453.5 620,441.0 630,516.8 640,506.2 650,514.8 660,514.5 670,494.8 680,531.3 690,536.1" fill="none" stroke="#00dd60" stroke-width="1" shape-rendering="crispEdges"/>
<path d="M48.5,486.3h3M50,484.8v3M58.5,496.0h3M60,494.5v3M68.5,532.6h3M70,531.1v3M78.5,533.7h3M80,532.2v3M88.5,506.6h3M90,505.1v3M98.5,498.8h3M100,497.3v3M108.5,516.2h3M110,514.7v3M118.5,524.8h3M120,523.3v3M128.5,444.6h3M130,443.1v3M138.5,484.1h3M140,482.6v3M148.5,526.0h3M150,524.5v3M158.5,535.7h3M160,534.2v3M168.5,497.0h3M170,495.5v3M178.5,530.1h3M180,528.6v3M188.5,533.0h3M190,531.5v3M198.5,532.4h3M200,530.9v3M208.5,507.3h3M210,505.8v3M218.5,530.4h3M220,528.9v3M228.5,522.5h3M230,521.0v3M238.5,529.6h3M240,528.1v3M248.5,490.7h3M250,489.2v3M258.5,507.8h3M260,506.3v3M268.5,541.8h3M270,540.3v3M278.5,533.8h3M280,532.3v3M288.5,456.2h3M290,454.7v3M298.5,484.7h3M300,483.2v3M308.5,504.2h3M310,502.7v3M318.5,511.3h3M320,509.8v3M328.5,471.5h3M330,470.0v3M338.5,474.3h3M340,472.8v3M348.5,481.7h3M350,480.2v3M358.5,472.3h3M360,470.8v3M368.5,479.2h3M370,477.7v3M378.5,478.7h3M380,477.2v3M388.5,532.8h3M390,531.3v3M398.5,518.3h3M400,516.8v3M408.5,448.0h3M410,446.5v3M418.5,463.0h3M420,461.5v3M428.5,503.2h3M430,501.7v3M438.5,508.6h3M440,507.1v3M448.5,459.9h3M450,458.4v3M458.5,500.4h3M460,498.9v3M468.5,540.6h3M470,539.1v3M478.5,525.9h3M480,524.4v3M488.5,482.0h3M490,480.5v3M498.5,512.4h3M500,510.9v3M508.5,536.1h3M510,534.6v3M518.5,513.0h3M520,511.5v3M528.5,466.5h3M530,465.0v3M538.5,473.2h3M540,471.7v3M548.5,472.0h3M550,470.5v3M558.5,494.4h3M560,492.9v3M568.5,513.0h3M570,511.5v3M578.5,488.2h3M580,486.7v3M588.5,521.9h3M590,520.4v3M598.5,504.8h3M600,503.3v3M608.5,453.5h3M610,452.0v3M618.5,441.0h3M620,439.5v3M628.5,516.8h3M630,515.3v3M638.5,506.2h3M640,504.7v3M648.5,514.8h3M650,513.3v3M658.5,514.5h3M660,513.0v3M668.5,494.8h3M670,493.3v3M678.5,531.3h3M680,529.8v3M688.5,536.1h3M690,534.6v3" stroke="#00dd60" stroke-width="1" fill="none" shape-rendering="crispEdges"/>
<polyline points="50,489.6 60,506.4 70,538.2 80,535.2 90,508.6 100,499.3 110,503.0 120,515.0 130,449.8 140,467.6 150,533.8 160,534.3 170,496.1 180,490.9 190,512.3 200,529.8 210,498.6 220,504.1 230,542.7 240,541.5 250,481.3 260,488.2 270,535.4 280,514.1 290,477.8 300,486.1 310,487.4 320,470.1 330,480.8 340,504.0 350,514.7 360,462.5 370,468.6 380,486.3 390,510.1 400,516.4 410,450.9 420,473.6 430,509.6 440,541.3 450,517.8 460,507.5 470,528.7 480,511.6 490,475.3 500,493.5 510,502.2 520,500.9 530,471.2 540,486.2 550,489.8 560,469.5 570,457.7 580,473.4 590,526.6 600,497.0 610,463.0 620,460.8 630,490.1 640,508.6 650,451.6 660,464.0 670,475.8 680,469.6 690,458.8" fill="none" stroke="#1e3c58" stroke-width="1" stroke-dasharray="2 2" shape-rendering="crispEdges"/>
<path d="M48.5,489.6h3M50,488.1v3M58.5,506.4h3M60,504.9v3M68.5,538.2h3M70,536.7v3M78.5,535.2h3M80,533.7v3M88.5,508.6h3M90,507.1v3M98.5,499.3h3M100,497.8v3M108.5,503.0h3M110,501.5v3M118.5,515.0h3M120,513.5v3M128.5,449.8h3M130,448.3v3M138.5,467.6h3M140,466.1v3M148.5,533.8h3M150,532.3v3M158.5,534.3h3M160,532.8v3M168.5,496.1h3M170,494.6v3M178.5,490.9h3M180,489.4v3M188.5,512.3h3M190,510.8v3M198.5,529.8h3M200,528.3v3M208.5,498.6h3M210,497.1v3M218.5,504.1h3M220,502.6v3M228.5,542.7h3M230,541.2v3M238.5,541.5h3M240,540.0v3M248.5,481.3h3M250,479.8v3M258.5,488.2h3M260,486.7v3M268.5,535.4h3M270,533.9v3M278.5,514.1h3M280,512.6v3M288.5,477.8h3M290,476.3v3M298.5,486.1h3M300,484.6v3M308.5,487.4h3M310,485.9v3M318.5,470.1h3M320,468.6v3M328.5,480.8h3M330,479.3v3M338.5,504.0h3M340,502.5v3M348.5,514.7h3M350,513.2v3M358.5,462.5h3M360,461.0v3M368.5,468.6h3M370,467.1v3M378.5,486.3h3M380,484.8v3M388.5,510.1h3M390,508.6v3M398.5,516.4h3M400,514.9v3M408.5,450.9h3M410,449.4v3M418.5,473.6h3M420,472.1v3M428.5,509.6h3M430,508.1v3M438.5,541.3h3M440,539.8v3M448.5,517.8h3M450,516.3v3M458.5,507.5h3M460,506.0v3M468.5,528.7h3M470,527.2v3M478.5,511.6h3M480,510.1v3M488.5,475.3h3M490,473.8v3M498.5,493.5h3M500,492.0v3M508.5,502.2h3M510,500.7v3M518.5,500.9h3M520,499.4v3M528.5,471.2h3M530,469.7v3M538.5,486.2h3M540,484.7v3M548.5,489.8h3M550,488.3v3M558.5,469.5h3M560,468.0v3M568.5,457.7h3M570,456.2v3M578.5,473.4h3M580,471.9v3M588.5,526.6h3M590,525.1v3M598.5,497.0h3M600,495.5v3M608.5,463.0h3M610,461.5v3M618.5,460.8h3M620,459.3v3M628.5,490.1h3M630,488.6v3M638.5,508.6h3M640,507.1v3M648.5,451.6h3M650,450.1v3M658.5,464.0h3M660,462.5v3M668.5,475.8h3M670,474.3v3M678.5,469.6h3M680,468.1v3M688.5,458.8h3M690,457.3v3" stroke="#1e3c58" stroke-width="1" fill="none" shape-rendering="crispEdges"/>
<polyline points="50,492.3 60,503.8 70,531.1 80,525.5 90,513.5 100,503.4 110,505.5 120,525.4 130,468.3 140,497.5 150,532.1 160,528.2 170,494.2 180,493.5 190,532.8 200,521.5 210,495.6 220,512.2 230,534.8 240,530.2 250,488.0 260,490.7 270,537.0 280,531.0 290,511.3 300,497.2 310,534.9 320,533.6 330,486.7 340,513.7 350,542.9 360,531.0 370,517.0 380,517.2 390,534.2 400,522.8 410,500.2 420,512.2 430,516.1 440,537.8 450,496.7 460,458.0 470,483.0 480,473.9 490,477.0 500,475.2 510,527.1 520,527.0 530,519.9 540,533.7 550,481.7 560,528.0 570,527.4 580,522.3 590,518.6 600,535.6 610,518.9 620,494.8 630,510.8 640,515.8 650,489.9 660,467.2 670,468.9 680,462.9 690,455.2" fill="none" stroke="#6a7580" stroke-width="1" shape-rendering="crispEdges"/>
<path d="M48.5,492.3h3M50,490.8v3M58.5,503.8h3M60,502.3v3M68.5,531.1h3M70,529.6v3M78.5,525.5h3M80,524.0v3M88.5,513.5h3M90,512.0v3M98.5,503.4h3M100,501.9v3M108.5,505.5h3M110,504.0v3M118.5,525.4h3M120,523.9v3M128.5,468.3h3M130,466.8v3M138.5,497.5h3M140,496.0v3M148.5,532.1h3M150,530.6v3M158.5,528.2h3M160,526.7v3M168.5,494.2h3M170,492.7v3M178.5,493.5h3M180,492.0v3M188.5,532.8h3M190,531.3v3M198.5,521.5h3M200,520.0v3M208.5,495.6h3M210,494.1v3M218.5,512.2h3M220,510.7v3M228.5,534.8h3M230,533.3v3M238.5,530.2h3M240,528.7v3M248.5,488.0h3M250,486.5v3M258.5,490.7h3M260,489.2v3M268.5,537.0h3M270,535.5v3M278.5,531.0h3M280,529.5v3M288.5,511.3h3M290,509.8v3M298.5,497.2h3M300,495.7v3M308.5,534.9h3M310,533.4v3M318.5,533.6h3M320,532.1v3M328.5,486.7h3M330,485.2v3M338.5,513.7h3M340,512.2v3M348.5,542.9h3M350,541.4v3M358.5,531.0h3M360,529.5v3M368.5,517.0h3M370,515.5v3M378.5,517.2h3M380,515.7v3M388.5,534.2h3M390,532.7v3M398.5,522.8h3M400,521.3v3M408.5,500.2h3M410,498.7v3M418.5,512.2h3M420,510.7v3M428.5,516.1h3M430,514.6v3M438.5,537.8h3M440,536.3v3M448.5,496.7h3M450,495.2v3M458.5,458.0h3M460,456.5v3M468.5,483.0h3M470,481.5v3M478.5,473.9h3M480,472.4v3M488.5,477.0h3M490,475.5v3M498.5,475.2h3M500,473.7v3M508.5,527.1h3M510,525.6v3M518.5,527.0h3M520,525.5v3M528.5,519.9h3M530,518.4v3M538.5,533.7h3M540,532.2v3M548.5,481.7h3M550,480.2v3M558.5,528.0h3M560,526.5v3M568.5,527.4h3M570,525.9v3M578.5,522.3h3M580,520.8v3M588.5,518.6h3M590,517.1v3M598.5,535.6h3M600,534.1v3M608.5,518.9h3M610,517.4v3M618.5,494.8h3M620,493.3v3M628.5,510.8h3M630,509.3v3M638.5,515.8h3M640,514.3v3M648.5,489.9h3M650,488.4v3M658.5,467.2h3M660,465.7v3M668.5,468.9h3M670,467.4v3M678.5,462.9h3M680,461.4v3M688.5,455.2h3M690,453.7v3" stroke="#6a7580" stroke-width="1" fill="none" shape-rendering="crispEdges"/>
<polyline points="50,496.3 60,507.4 70,536.0 80,538.4 90,513.7 100,534.8 110,517.5 120,520.7 130,445.2 140,494.0 150,536.0 160,540.5 170,508.4 180,524.4 190,510.2 200,527.0 210,493.1 220,521.3 230,537.4 240,533.3 250,490.1 260,505.3 270,539.6 280,538.3 290,486.9 300,504.2 310,525.0 320,532.7 330,469.0 340,495.4 350,536.5 360,539.3 370,487.3 380,512.2 390,534.9 400,529.0 410,511.0 420,511.1 430,520.0 440,525.1 450,488.7 460,503.6 470,520.6 480,530.4 490,481.1 500,468.2 510,505.0 520,516.5 530,483.5 540,494.0 550,532.4 560,503.9 570,478.1 580,457.6 590,480.0 600,470.4 610,448.0 620,440.1 630,467.2 640,496.6 650,474.5 660,511.7 670,538.8 680,470.0 690,410.0" fill="none" stroke="#e07cf0" stroke-width="1" shape-rendering="crispEdges"/>
<path d="M48.5,496.3h3M50,494.8v3M58.5,507.4h3M60,505.9v3M68.5,536.0h3M70,534.5v3M78.5,538.4h3M80,536.9v3M88.5,513.7h3M90,512.2v3M98.5,534.8h3M100,533.3v3M108.5,517.5h3M110,516.0v3M118.5,520.7h3M120,519.2v3M128.5,445.2h3M130,443.7v3M138.5,494.0h3M140,492.5v3M148.5,536.0h3M150,534.5v3M158.5,540.5h3M160,539.0v3M168.5,508.4h3M170,506.9v3M178.5,524.4h3M180,522.9v3M188.5,510.2h3M190,508.7v3M198.5,527.0h3M200,525.5v3M208.5,493.1h3M210,491.6v3M218.5,521.3h3M220,519.8v3M228.5,537.4h3M230,535.9v3M238.5,533.3h3M240,531.8v3M248.5,490.1h3M250,488.6v3M258.5,505.3h3M260,503.8v3M268.5,539.6h3M270,538.1v3M278.5,538.3h3M280,536.8v3M288.5,486.9h3M290,485.4v3M298.5,504.2h3M300,502.7v3M308.5,525.0h3M310,523.5v3M318.5,532.7h3M320,531.2v3M328.5,469.0h3M330,467.5v3M338.5,495.4h3M340,493.9v3M348.5,536.5h3M350,535.0v3M358.5,539.3h3M360,537.8v3M368.5,487.3h3M370,485.8v3M378.5,512.2h3M380,510.7v3M388.5,534.9h3M390,533.4v3M398.5,529.0h3M400,527.5v3M408.5,511.0h3M410,509.5v3M418.5,511.1h3M420,509.6v3M428.5,520.0h3M430,518.5v3M438.5,525.1h3M440,523.6v3M448.5,488.7h3M450,487.2v3M458.5,503.6h3M460,502.1v3M468.5,520.6h3M470,519.1v3M478.5,530.4h3M480,528.9v3M488.5,481.1h3M490,479.6v3M498.5,468.2h3M500,466.7v3M508.5,505.0h3M510,503.5v3M518.5,516.5h3M520,515.0v3M528.5,483.5h3M530,482.0v3M538.5,494.0h3M540,492.5v3M548.5,532.4h3M550,530.9v3M558.5,503.9h3M560,502.4v3M568.5,478.1h3M570,476.6v3M578.5,457.6h3M580,456.1v3M588.5,480.0h3M590,478.5v3M598.5,470.4h3M600,468.9v3M608.5,448.0h3M610,446.5v3M618.5,440.1h3M620,438.6v3M628.5,467.2h3M630,465.7v3M638.5,496.6h3M640,495.1v3M648.5,474.5h3M650,473.0v3M658.5,511.7h3M660,510.2v3M668.5,538.8h3M670,537.3v3M678.5,470.0h3M680,468.5v3M688.5,410.0h3M690,408.5v3" stroke="#e07cf0" stroke-width="1" fill="none" shape-rendering="crispEdges"/>
<polyline points="50,489.0 60,506.5 70,532.1 80,530.2 90,500.3 100,528.6 110,516.9 120,530.0 130,445.9 140,463.8 150,499.0 160,518.7 170,487.4 180,513.3 190,519.2 200,520.0 210,487.1 220,512.2 230,539.4 240,542.3 250,495.1 260,509.7 270,538.9 280,508.4 290,471.3 300,485.4 310,508.8 320,477.9 330,426.0 340,474.0 350,511.1 360,530.3 370,470.2 380,494.8 390,503.7 400,539.3 410,509.3 420,510.5 430,542.4 440,533.1 450,493.7 460,472.6 470,527.4 480,529.6 490,482.6 500,466.9 510,538.9 520,540.1 530,528.1 540,529.4 550,541.4 560,542.2 570,509.5 580,525.8 590,542.0 600,527.0 610,514.5 620,529.0 630,527.4 640,507.2 650,468.4 660,468.7 670,494.8 680,479.4 690,452.4" fill="none" stroke="#7a1ef0" stroke-width="1" shape-rendering="crispEdges"/>
<path d="M48.5,489.0h3M50,487.5v3M58.5,506.5h3M60,505.0v3M68.5,532.1h3M70,530.6v3M78.5,530.2h3M80,528.7v3M88.5,500.3h3M90,498.8v3M98.5,528.6h3M100,527.1v3M108.5,516.9h3M110,515.4v3M118.5,530.0h3M120,528.5v3M128.5,445.9h3M130,444.4v3M138.5,463.8h3M140,462.3v3M148.5,499.0h3M150,497.5v3M158.5,518.7h3M160,517.2v3M168.5,487.4h3M170,485.9v3M178.5,513.3h3M180,511.8v3M188.5,519.2h3M190,517.7v3M198.5,520.0h3M200,518.5v3M208.5,487.1h3M210,485.6v3M218.5,512.2h3M220,510.7v3M228.5,539.4h3M230,537.9v3M238.5,542.3h3M240,540.8v3M248.5,495.1h3M250,493.6v3M258.5,509.7h3M260,508.2v3M268.5,538.9h3M270,537.4v3M278.5,508.4h3M280,506.9v3M288.5,471.3h3M290,469.8v3M298.5,485.4h3M300,483.9v3M308.5,508.8h3M310,507.3v3M318.5,477.9h3M320,476.4v3M328.5,426.0h3M330,424.5v3M338.5,474.0h3M340,472.5v3M348.5,511.1h3M350,509.6v3M358.5,530.3h3M360,528.8v3M368.5,470.2h3M370,468.7v3M378.5,494.8h3M380,493.3v3M388.5,503.7h3M390,502.2v3M398.5,539.3h3M400,537.8v3M408.5,509.3h3M410,507.8v3M418.5,510.5h3M420,509.0v3M428.5,542.4h3M430,540.9v3M438.5,533.1h3M440,531.6v3M448.5,493.7h3M450,492.2v3M458.5,472.6h3M460,471.1v3M468.5,527.4h3M470,525.9v3M478.5,529.6h3M480,528.1v3M488.5,482.6h3M490,481.1v3M498.5,466.9h3M500,465.4v3M508.5,538.9h3M510,537.4v3M518.5,540.1h3M520,538.6v3M528.5,528.1h3M530,526.6v3M538.5,529.4h3M540,527.9v3M548.5,541.4h3M550,539.9v3M558.5,542.2h3M560,540.7v3M568.5,509.5h3M570,508.0v3M578.5,525.8h3M580,524.3v3M588.5,542.0h3M590,540.5v3M598.5,527.0h3M600,525.5v3M608.5,514.5h3M610,513.0v3M618.5,529.0h3M620,527.5v3M628.5,527.4h3M630,525.9v3M638.5,507.2h3M640,505.7v3M648.5,468.4h3M650,466.9v3M658.5,468.7h3M660,467.2v3M668.5,494.8h3M670,493.3v3M678.5,479.4h3M680,477.9v3M688.5,452.4h3M690,450.9v3" stroke="#7a1ef0" stroke-width="1" fill="none" shape-rendering="crispEdges"/>
<polyline points="50,495.5 60,503.2 70,529.8 80,524.6 90,507.2 100,502.2 110,514.4 120,530.8 130,463.7 140,495.3 150,534.4 160,525.6 170,508.5 180,517.6 190,531.2 200,529.7 210,492.8 220,492.0 230,536.4 240,541.4 250,476.7 260,484.5 270,517.8 280,502.3 290,442.4 300,495.3 310,538.1 320,532.4 330,485.8 340,494.8 350,516.7 360,484.4 370,503.8 380,477.1 390,508.4 400,520.2 410,475.7 420,461.1 430,529.2 440,538.2 450,463.7 460,480.5 470,501.0 480,502.2 490,504.5 500,470.7 510,483.9 520,531.9 530,506.1 540,485.8 550,530.3 560,514.6 570,475.7 580,468.5 590,524.5 600,504.1 610,450.6 620,453.4 630,506.5 640,540.4 650,527.0 660,485.1 670,479.4 680,526.6 690,470.9" fill="none" stroke="#7a5a2a" stroke-width="1" shape-rendering="crispEdges"/>
<path d="M48.5,495.5h3M50,494.0v3M58.5,503.2h3M60,501.7v3M68.5,529.8h3M70,528.3v3M78.5,524.6h3M80,523.1v3M88.5,507.2h3M90,505.7v3M98.5,502.2h3M100,500.7v3M108.5,514.4h3M110,512.9v3M118.5,530.8h3M120,529.3v3M128.5,463.7h3M130,462.2v3M138.5,495.3h3M140,493.8v3M148.5,534.4h3M150,532.9v3M158.5,525.6h3M160,524.1v3M168.5,508.5h3M170,507.0v3M178.5,517.6h3M180,516.1v3M188.5,531.2h3M190,529.7v3M198.5,529.7h3M200,528.2v3M208.5,492.8h3M210,491.3v3M218.5,492.0h3M220,490.5v3M228.5,536.4h3M230,534.9v3M238.5,541.4h3M240,539.9v3M248.5,476.7h3M250,475.2v3M258.5,484.5h3M260,483.0v3M268.5,517.8h3M270,516.3v3M278.5,502.3h3M280,500.8v3M288.5,442.4h3M290,440.9v3M298.5,495.3h3M300,493.8v3M308.5,538.1h3M310,536.6v3M318.5,532.4h3M320,530.9v3M328.5,485.8h3M330,484.3v3M338.5,494.8h3M340,493.3v3M348.5,516.7h3M350,515.2v3M358.5,484.4h3M360,482.9v3M368.5,503.8h3M370,502.3v3M378.5,477.1h3M380,475.6v3M388.5,508.4h3M390,506.9v3M398.5,520.2h3M400,518.7v3M408.5,475.7h3M410,474.2v3M418.5,461.1h3M420,459.6v3M428.5,529.2h3M430,527.7v3M438.5,538.2h3M440,536.7v3M448.5,463.7h3M450,462.2v3M458.5,480.5h3M460,479.0v3M468.5,501.0h3M470,499.5v3M478.5,502.2h3M480,500.7v3M488.5,504.5h3M490,503.0v3M498.5,470.7h3M500,469.2v3M508.5,483.9h3M510,482.4v3M518.5,531.9h3M520,530.4v3M528.5,506.1h3M530,504.6v3M538.5,485.8h3M540,484.3v3M548.5,530.3h3M550,528.8v3M558.5,514.6h3M560,513.1v3M568.5,475.7h3M570,474.2v3M578.5,468.5h3M580,467.0v3M588.5,524.5h3M590,523.0v3M598.5,504.1h3M600,502.6v3M608.5,450.6h3M610,449.1v3M618.5,453.4h3M620,451.9v3M628.5,506.5h3M630,505.0v3M638.5,540.4h3M640,538.9v3M648.5,527.0h3M650,525.5v3M658.5,485.1h3M660,483.6v3M668.5,479.4h3M670,477.9v3M678.5,526.6h3M680,525.1v3M688.5,470.9h3M690,469.4v3" stroke="#7a5a2a" stroke-width="1" fill="none" shape-rendering="crispEdges"/>
<polyline points="50,491.5 60,504.0 70,540.0 80,523.5 90,499.6 100,514.7 110,508.5 120,532.9 130,454.8 140,471.6 150,518.3 160,519.4 170,500.6 180,521.4 190,534.6 200,533.8 210,489.0 220,502.6 230,540.1 240,539.3 250,483.3 260,483.9 270,519.7 280,534.4 290,483.0 300,500.3 310,521.9 320,514.3 330,435.6 340,478.5 350,492.7 360,468.1 370,476.3 380,494.2 390,512.1 400,520.1 410,466.9 420,479.0 430,512.3 440,526.9 450,458.4 460,495.4 470,508.4 480,528.3 490,499.7 500,483.6 510,515.7 520,529.0 530,515.8 540,514.6 550,523.9 560,466.1 570,467.7 580,465.5 590,499.7 600,470.2 610,483.7 620,532.3 630,537.5 640,503.3 650,458.4 660,471.1 670,479.6 680,472.1 690,471.9" fill="none" stroke="#2a0060" stroke-width="1" stroke-dasharray="2 2" shape-rendering="crispEdges"/>
<path d="M48.5,491.5h3M50,490.0v3M58.5,504.0h3M60,502.5v3M68.5,540.0h3M70,538.5v3M78.5,523.5h3M80,522.0v3M88.5,499.6h3M90,498.1v3M98.5,514.7h3M100,513.2v3M108.5,508.5h3M110,507.0v3M118.5,532.9h3M120,531.4v3M128.5,454.8h3M130,453.3v3M138.5,471.6h3M140,470.1v3M148.5,518.3h3M150,516.8v3M158.5,519.4h3M160,517.9v3M168.5,500.6h3M170,499.1v3M178.5,521.4h3M180,519.9v3M188.5,534.6h3M190,533.1v3M198.5,533.8h3M200,532.3v3M208.5,489.0h3M210,487.5v3M218.5,502.6h3M220,501.1v3M228.5,540.1h3M230,538.6v3M238.5,539.3h3M240,537.8v3M248.5,483.3h3M250,481.8v3M258.5,483.9h3M260,482.4v3M268.5,519.7h3M270,518.2v3M278.5,534.4h3M280,532.9v3M288.5,483.0h3M290,481.5v3M298.5,500.3h3M300,498.8v3M308.5,521.9h3M310,520.4v3M318.5,514.3h3M320,512.8v3M328.5,435.6h3M330,434.1v3M338.5,478.5h3M340,477.0v3M348.5,492.7h3M350,491.2v3M358.5,468.1h3M360,466.6v3M368.5,476.3h3M370,474.8v3M378.5,494.2h3M380,492.7v3M388.5,512.1h3M390,510.6v3M398.5,520.1h3M400,518.6v3M408.5,466.9h3M410,465.4v3M418.5,479.0h3M420,477.5v3M428.5,512.3h3M430,510.8v3M438.5,526.9h3M440,525.4v3M448.5,458.4h3M450,456.9v3M458.5,495.4h3M460,493.9v3M468.5,508.4h3M470,506.9v3M478.5,528.3h3M480,526.8v3M488.5,499.7h3M490,498.2v3M498.5,483.6h3M500,482.1v3M508.5,515.7h3M510,514.2v3M518.5,529.0h3M520,527.5v3M528.5,515.8h3M530,514.3v3M538.5,514.6h3M540,513.1v3M548.5,523.9h3M550,522.4v3M558.5,466.1h3M560,464.6v3M568.5,467.7h3M570,466.2v3M578.5,465.5h3M580,464.0v3M588.5,499.7h3M590,498.2v3M598.5,470.2h3M600,468.7v3M608.5,483.7h3M610,482.2v3M618.5,532.3h3M620,530.8v3M628.5,537.5h3M630,536.0v3M638.5,503.3h3M640,501.8v3M648.5,458.4h3M650,456.9v3M658.5,471.1h3M660,469.6v3M668.5,479.6h3M670,478.1v3M678.5,472.1h3M680,470.6v3M688.5,471.9h3M690,470.4v3" stroke="#2a0060" stroke-width="1" fill="none" shape-rendering="crispEdges"/>
<polyline points="50,494.1 60,499.2 70,532.7 80,541.9 90,514.3 100,505.6 110,492.7 120,511.2 130,442.7 140,481.2 150,503.2 160,506.7 170,486.8 180,502.6 190,517.3 200,528.3 210,489.6 220,520.0 230,534.2 240,531.9 250,473.4 260,486.7 270,533.2 280,507.3 290,443.0 300,491.0 310,513.7 320,497.1 330,483.1 340,509.4 350,529.2 360,541.7 370,522.1 380,513.9 390,532.5 400,520.0 410,472.4 420,495.7 430,504.6 440,519.9 450,489.4 460,509.1 470,521.9 480,532.1 490,499.0 500,504.9 510,533.1 520,510.5 530,486.6 540,535.9 550,531.8 560,539.1 570,467.0 580,510.6 590,530.0 600,521.0 610,467.6 620,529.8 630,532.0 640,500.7 650,453.3 660,468.7 670,496.2 680,515.2 690,509.5" fill="none" stroke="#f0d200" stroke-width="1" shape-rendering="crispEdges"/>
<path d="M48.5,494.1h3M50,492.6v3M58.5,499.2h3M60,497.7v3M68.5,532.7h3M70,531.2v3M78.5,541.9h3M80,540.4v3M88.5,514.3h3M90,512.8v3M98.5,505.6h3M100,504.1v3M108.5,492.7h3M110,491.2v3M118.5,511.2h3M120,509.7v3M128.5,442.7h3M130,441.2v3M138.5,481.2h3M140,479.7v3M148.5,503.2h3M150,501.7v3M158.5,506.7h3M160,505.2v3M168.5,486.8h3M170,485.3v3M178.5,502.6h3M180,501.1v3M188.5,517.3h3M190,515.8v3M198.5,528.3h3M200,526.8v3M208.5,489.6h3M210,488.1v3M218.5,520.0h3M220,518.5v3M228.5,534.2h3M230,532.7v3M238.5,531.9h3M240,530.4v3M248.5,473.4h3M250,471.9v3M258.5,486.7h3M260,485.2v3M268.5,533.2h3M270,531.7v3M278.5,507.3h3M280,505.8v3M288.5,443.0h3M290,441.5v3M298.5,491.0h3M300,489.5v3M308.5,513.7h3M310,512.2v3M318.5,497.1h3M320,495.6v3M328.5,483.1h3M330,481.6v3M338.5,509.4h3M340,507.9v3M348.5,529.2h3M350,527.7v3M358.5,541.7h3M360,540.2v3M368.5,522.1h3M370,520.6v3M378.5,513.9h3M380,512.4v3M388.5,532.5h3M390,531.0v3M398.5,520.0h3M400,518.5v3M408.5,472.4h3M410,470.9v3M418.5,495.7h3M420,494.2v3M428.5,504.6h3M430,503.1v3M438.5,519.9h3M440,518.4v3M448.5,489.4h3M450,487.9v3M458.5,509.1h3M460,507.6v3M468.5,521.9h3M470,520.4v3M478.5,532.1h3M480,530.6v3M488.5,499.0h3M490,497.5v3M498.5,504.9h3M500,503.4v3M508.5,533.1h3M510,531.6v3M518.5,510.5h3M520,509.0v3M528.5,486.6h3M530,485.1v3M538.5,535.9h3M540,534.4v3M548.5,531.8h3M550,530.3v3M558.5,539.1h3M560,537.6v3M568.5,467.0h3M570,465.5v3M578.5,510.6h3M580,509.1v3M588.5,530.0h3M590,528.5v3M598.5,521.0h3M600,519.5v3M608.5,467.6h3M610,466.1v3M618.5,529.8h3M620,528.3v3M628.5,532.0h3M630,530.5v3M638.5,500.7h3M640,499.2v3M648.5,453.3h3M650,451.8v3M658.5,468.7h3M660,467.2v3M668.5,496.2h3M670,494.7v3M678.5,515.2h3M680,513.7v3M688.5,509.5h3M690,508.0v3" stroke="#f0d200" stroke-width="1" fill="none" shape-rendering="crispEdges"/>
<polyline points="50,486.6 60,509.0 70,529.8 80,532.8 90,510.4 100,507.1 110,511.0 120,512.3 130,461.0 140,495.0 150,537.9 160,536.3 170,510.1 180,517.8 190,532.4 200,540.8 210,502.7 220,506.2 230,538.9 240,536.6 250,472.2 260,500.7 270,528.4 280,507.9 290,465.6 300,499.4 310,526.2 320,531.0 330,456.1 340,468.8 350,491.2 360,532.5 370,466.8 380,489.2 390,517.5 400,516.0 410,448.2 420,461.7 430,510.3 440,532.8 450,507.3 460,492.2 470,489.5 480,496.5 490,485.1 500,496.6 510,533.2 520,539.9 530,511.9 540,533.0 550,541.1 560,530.6 570,482.9 580,485.5 590,499.5 600,488.0 610,528.7 620,533.5 630,503.9 640,499.1 650,521.8 660,499.8 670,537.1 680,521.9 690,521.5" fill="none" stroke="#2a66a0" stroke-width="1" shape-rendering="crispEdges"/>
<path d="M48.5,486.6h3M50,485.1v3M58.5,509.0h3M60,507.5v3M68.5,529.8h3M70,528.3v3M78.5,532.8h3M80,531.3v3M88.5,510.4h3M90,508.9v3M98.5,507.1h3M100,505.6v3M108.5,511.0h3M110,509.5v3M118.5,512.3h3M120,510.8v3M128.5,461.0h3M130,459.5v3M138.5,495.0h3M140,493.5v3M148.5,537.9h3M150,536.4v3M158.5,536.3h3M160,534.8v3M168.5,510.1h3M170,508.6v3M178.5,517.8h3M180,516.3v3M188.5,532.4h3M190,530.9v3M198.5,540.8h3M200,539.3v3M208.5,502.7h3M210,501.2v3M218.5,506.2h3M220,504.7v3M228.5,538.9h3M230,537.4v3M238.5,536.6h3M240,535.1v3M248.5,472.2h3M250,470.7v3M258.5,500.7h3M260,499.2v3M268.5,528.4h3M270,526.9v3M278.5,507.9h3M280,506.4v3M288.5,465.6h3M290,464.1v3M298.5,499.4h3M300,497.9v3M308.5,526.2h3M310,524.7v3M318.5,531.0h3M320,529.5v3M328.5,456.1h3M330,454.6v3M338.5,468.8h3M340,467.3v3M348.5,491.2h3M350,489.7v3M358.5,532.5h3M360,531.0v3M368.5,466.8h3M370,465.3v3M378.5,489.2h3M380,487.7v3M388.5,517.5h3M390,516.0v3M398.5,516.0h3M400,514.5v3M408.5,448.2h3M410,446.7v3M418.5,461.7h3M420,460.2v3M428.5,510.3h3M430,508.8v3M438.5,532.8h3M440,531.3v3M448.5,507.3h3M450,505.8v3M458.5,492.2h3M460,490.7v3M468.5,489.5h3M470,488.0v3M478.5,496.5h3M480,495.0v3M488.5,485.1h3M490,483.6v3M498.5,496.6h3M500,495.1v3M508.5,533.2h3M510,531.7v3M518.5,539.9h3M520,538.4v3M528.5,511.9h3M530,510.4v3M538.5,533.0h3M540,531.5v3M548.5,541.1h3M550,539.6v3M558.5,530.6h3M560,529.1v3M568.5,482.9h3M570,481.4v3M578.5,485.5h3M580,484.0v3M588.5,499.5h3M590,498.0v3M598.5,488.0h3M600,486.5v3M608.5,528.7h3M610,527.2v3M618.5,533.5h3M620,532.0v3M628.5,503.9h3M630,502.4v3M638.5,499.1h3M640,497.6v3M648.5,521.8h3M650,520.3v3M658.5,499.8h3M660,498.3v3M668.5,537.1h3M670,535.6v3M678.5,521.9h3M680,520.4v3M688.5,521.5h3M690,520.0v3" stroke="#2a66a0" stroke-width="1" fill="none" shape-rendering="crispEdges"/>
<polyline points="50,496.2 60,509.1 70,527.3 80,524.1 90,512.0 100,535.9 110,516.4 120,521.8 130,468.2 140,478.3 150,511.9 160,508.7 170,486.0 180,516.3 190,515.1 200,523.4 210,485.4 220,497.9 230,536.4 240,542.7 250,474.2 260,505.2 270,534.8 280,514.0 290,449.6 300,495.1 310,522.3 320,481.8 330,469.2 340,511.8 350,539.2 360,542.8 370,479.7 380,505.8 390,534.3 400,542.4 410,499.4 420,500.4 430,529.8 440,518.8 450,502.4 460,502.0 470,502.9 480,495.9 490,463.6 500,492.7 510,529.6 520,536.2 530,504.6 540,522.8 550,541.2 560,508.7 570,473.7 580,463.3 590,541.2 600,527.5 610,537.8 620,538.9 630,542.0 640,536.3 650,520.4 660,507.1 670,538.9 680,537.6 690,518.1" fill="none" stroke="#94561e" stroke-width="1" shape-rendering="crispEdges"/>
<path d="M48.5,496.2h3M50,494.7v3M58.5,509.1h3M60,507.6v3M68.5,527.3h3M70,525.8v3M78.5,524.1h3M80,522.6v3M88.5,512.0h3M90,510.5v3M98.5,535.9h3M100,534.4v3M108.5,516.4h3M110,514.9v3M118.5,521.8h3M120,520.3v3M128.5,468.2h3M130,466.7v3M138.5,478.3h3M140,476.8v3M148.5,511.9h3M150,510.4v3M158.5,508.7h3M160,507.2v3M168.5,486.0h3M170,484.5v3M178.5,516.3h3M180,514.8v3M188.5,515.1h3M190,513.6v3M198.5,523.4h3M200,521.9v3M208.5,485.4h3M210,483.9v3M218.5,497.9h3M220,496.4v3M228.5,536.4h3M230,534.9v3M238.5,542.7h3M240,541.2v3M248.5,474.2h3M250,472.7v3M258.5,505.2h3M260,503.7v3M268.5,534.8h3M270,533.3v3M278.5,514.0h3M280,512.5v3M288.5,449.6h3M290,448.1v3M298.5,495.1h3M300,493.6v3M308.5,522.3h3M310,520.8v3M318.5,481.8h3M320,480.3v3M328.5,469.2h3M330,467.7v3M338.5,511.8h3M340,510.3v3M348.5,539.2h3M350,537.7v3M358.5,542.8h3M360,541.3v3M368.5,479.7h3M370,478.2v3M378.5,505.8h3M380,504.3v3M388.5,534.3h3M390,532.8v3M398.5,542.4h3M400,540.9v3M408.5,499.4h3M410,497.9v3M418.5,500.4h3M420,498.9v3M428.5,529.8h3M430,528.3v3M438.5,518.8h3M440,517.3v3M448.5,502.4h3M450,500.9v3M458.5,502.0h3M460,500.5v3M468.5,502.9h3M470,501.4v3M478.5,495.9h3M480,494.4v3M488.5,463.6h3M490,462.1v3M498.5,492.7h3M500,491.2v3M508.5,529.6h3M510,528.1v3M518.5,536.2h3M520,534.7v3M528.5,504.6h3M530,503.1v3M538.5,522.8h3M540,521.3v3M548.5,541.2h3M550,539.7v3M558.5,508.7h3M560,507.2v3M568.5,473.7h3M570,472.2v3M578.5,463.3h3M580,461.8v3M588.5,541.2h3M590,539.7v3M598.5,527.5h3M600,526.0v3M608.5,537.8h3M610,536.3v3M618.5,538.9h3M620,537.4v3M628.5,542.0h3M630,540.5v3M638.5,536.3h3M640,534.8v3M648.5,520.4h3M650,518.9v3M658.5,507.1h3M660,505.6v3M668.5,538.9h3M670,537.4v3M678.5,537.6h3M680,536.1v3M688.5,518.1h3M690,516.6v3" stroke="#94561e" stroke-width="1" fill="none" shape-rendering="crispEdges"/>
<polyline points="50,490.0 60,506.7 70,532.7 80,525.4 90,502.1 100,524.6 110,515.3 120,515.3 130,459.6 140,488.1 150,516.7 160,522.2 170,493.0 180,509.0 190,528.3 200,531.7 210,505.7 220,516.6 230,525.4 240,529.5 250,481.2 260,488.3 270,517.3 280,501.8 290,443.0 300,484.2 310,524.1 320,493.6 330,482.8 340,509.9 350,501.3 360,495.2 370,459.2 380,514.8 390,531.8 400,533.0 410,470.0 420,482.9 430,535.9 440,536.5 450,524.0 460,514.1 470,542.3 480,542.3 490,520.8 500,512.9 510,522.5 520,521.4 530,508.5 540,486.6 550,539.1 560,534.9 570,515.6 580,516.7 590,509.4 600,481.0 610,460.3 620,500.3 630,524.2 640,515.2 650,475.5 660,485.0 670,511.0 680,520.5 690,474.2" fill="none" stroke="#9a8ef0" stroke-width="1" shape-rendering="crispEdges"/>
<path d="M48.5,490.0h3M50,488.5v3M58.5,506.7h3M60,505.2v3M68.5,532.7h3M70,531.2v3M78.5,525.4h3M80,523.9v3M88.5,502.1h3M90,500.6v3M98.5,524.6h3M100,523.1v3M108.5,515.3h3M110,513.8v3M118.5,515.3h3M120,513.8v3M128.5,459.6h3M130,458.1v3M138.5,488.1h3M140,486.6v3M148.5,516.7h3M150,515.2v3M158.5,522.2h3M160,520.7v3M168.5,493.0h3M170,491.5v3M178.5,509.0h3M180,507.5v3M188.5,528.3h3M190,526.8v3M198.5,531.7h3M200,530.2v3M208.5,505.7h3M210,504.2v3M218.5,516.6h3M220,515.1v3M228.5,525.4h3M230,523.9v3M238.5,529.5h3M240,528.0v3M248.5,481.2h3M250,479.7v3M258.5,488.3h3M260,486.8v3M268.5,517.3h3M270,515.8v3M278.5,501.8h3M280,500.3v3M288.5,443.0h3M290,441.5v3M298.5,484.2h3M300,482.7v3M308.5,524.1h3M310,522.6v3M318.5,493.6h3M320,492.1v3M328.5,482.8h3M330,481.3v3M338.5,509.9h3M340,508.4v3M348.5,501.3h3M350,499.8v3M358.5,495.2h3M360,493.7v3M368.5,459.2h3M370,457.7v3M378.5,514.8h3M380,513.3v3M388.5,531.8h3M390,530.3v3M398.5,533.0h3M400,531.5v3M408.5,470.0h3M410,468.5v3M418.5,482.9h3M420,481.4v3M428.5,535.9h3M430,534.4v3M438.5,536.5h3M440,535.0v3M448.5,524.0h3M450,522.5v3M458.5,514.1h3M460,512.6v3M468.5,542.3h3M470,540.8v3M478.5,542.3h3M480,540.8v3M488.5,520.8h3M490,519.3v3M498.5,512.9h3M500,511.4v3M508.5,522.5h3M510,521.0v3M518.5,521.4h3M520,519.9v3M528.5,508.5h3M530,507.0v3M538.5,486.6h3M540,485.1v3M548.5,539.1h3M550,537.6v3M558.5,534.9h3M560,533.4v3M568.5,515.6h3M570,514.1v3M578.5,516.7h3M580,515.2v3M588.5,509.4h3M590,507.9v3M598.5,481.0h3M600,479.5v3M608.5,460.3h3M610,458.8v3M618.5,500.3h3M620,498.8v3M628.5,524.2h3M630,522.7v3M638.5,515.2h3M640,513.7v3M648.5,475.5h3M650,474.0v3M658.5,485.0h3M660,483.5v3M668.5,511.0h3M670,509.5v3M678.5,520.5h3M680,519.0v3M688.5,474.2h3M690,472.7v3" stroke="#9a8ef0" stroke-width="1" fill="none" shape-rendering="crispEdges"/>
<polyline points="50,489.9 60,498.4 70,526.1 80,527.2 90,491.8 100,499.8 110,499.0 120,506.6 130,446.4 140,466.8 150,509.1 160,527.4 170,491.9 180,496.3 190,509.2 200,523.3 210,487.2 220,495.7 230,532.0 240,536.1 250,470.9 260,484.2 270,516.6 280,532.5 290,478.3 300,480.8 310,517.6 320,534.6 330,481.8 340,496.8 350,539.6 360,538.6 370,498.3 380,456.0 390,471.0 400,498.0 410,486.7 420,512.6 430,536.6 440,539.3 450,497.1 460,497.8 470,541.6 480,533.0 490,530.2 500,511.9 510,500.4 520,492.0 530,460.7 540,479.6 550,476.6 560,497.8 570,509.2 580,522.9 590,526.8 600,537.5 610,528.1 620,518.3 630,537.4 640,534.3 650,492.4 660,475.2 670,496.0 680,474.8 690,474.4" fill="none" stroke="#a0f040" stroke-width="1" shape-rendering="crispEdges"/>
<path d="M48.5,489.9h3M50,488.4v3M58.5,498.4h3M60,496.9v3M68.5,526.1h3M70,524.6v3M78.5,527.2h3M80,525.7v3M88.5,491.8h3M90,490.3v3M98.5,499.8h3M100,498.3v3M108.5,499.0h3M110,497.5v3M118.5,506.6h3M120,505.1v3M128.5,446.4h3M130,444.9v3M138.5,466.8h3M140,465.3v3M148.5,509.1h3M150,507.6v3M158.5,527.4h3M160,525.9v3M168.5,491.9h3M170,490.4v3M178.5,496.3h3M180,494.8v3M188.5,509.2h3M190,507.7v3M198.5,523.3h3M200,521.8v3M208.5,487.2h3M210,485.7v3M218.5,495.7h3M220,494.2v3M228.5,532.0h3M230,530.5v3M238.5,536.1h3M240,534.6v3M248.5,470.9h3M250,469.4v3M258.5,484.2h3M260,482.7v3M268.5,516.6h3M270,515.1v3M278.5,532.5h3M280,531.0v3M288.5,478.3h3M290,476.8v3M298.5,480.8h3M300,479.3v3M308.5,517.6h3M310,516.1v3M318.5,534.6h3M320,533.1v3M328.5,481.8h3M330,480.3v3M338.5,496.8h3M340,495.3v3M348.5,539.6h3M350,538.1v3M358.5,538.6h3M360,537.1v3M368.5,498.3h3M370,496.8v3M378.5,456.0h3M380,454.5v3M388.5,471.0h3M390,469.5v3M398.5,498.0h3M400,496.5v3M408.5,486.7h3M410,485.2v3M418.5,512.6h3M420,511.1v3M428.5,536.6h3M430,535.1v3M438.5,539.3h3M440,537.8v3M448.5,497.1h3M450,495.6v3M458.5,497.8h3M460,496.3v3M468.5,541.6h3M470,540.1v3M478.5,533.0h3M480,531.5v3M488.5,530.2h3M490,528.7v3M498.5,511.9h3M500,510.4v3M508.5,500.4h3M510,498.9v3M518.5,492.0h3M520,490.5v3M528.5,460.7h3M530,459.2v3M538.5,479.6h3M540,478.1v3M548.5,476.6h3M550,475.1v3M558.5,497.8h3M560,496.3v3M568.5,509.2h3M570,507.7v3M578.5,522.9h3M580,521.4v3M588.5,526.8h3M590,525.3v3M598.5,537.5h3M600,536.0v3M608.5,528.1h3M610,526.6v3M618.5,518.3h3M620,516.8v3M628.5,537.4h3M630,535.9v3M638.5,534.3h3M640,532.8v3M648.5,492.4h3M650,490.9v3M658.5,475.2h3M660,473.7v3M668.5,496.0h3M670,494.5v3M678.5,474.8h3M680,473.3v3M688.5,474.4h3M690,472.9v3" stroke="#a0f040" stroke-width="1" fill="none" shape-rendering="crispEdges"/>
<polyline points="50,492.2 60,504.2 70,537.8 80,531.5 90,510.7 100,532.5 110,521.8 120,511.0 130,449.6 140,470.6 150,503.1 160,510.1 170,502.1 180,508.3 190,534.2 200,537.5 210,508.1 220,519.9 230,533.8 240,530.5 250,483.8 260,506.2 270,539.5 280,542.6 290,481.9 300,507.8 310,538.9 320,531.8 330,465.8 340,454.7 350,485.2 360,509.7 370,485.5 380,517.4 390,526.5 400,539.1 410,496.1 420,478.0 430,523.0 440,535.9 450,523.9 460,497.7 470,535.6 480,541.2 490,523.0 500,524.1 510,541.4 520,539.9 530,518.4 540,534.2 550,537.9 560,534.3 570,523.0 580,528.2 590,539.9 600,534.7 610,479.3 620,459.6 630,479.8 640,491.7 650,453.7 660,468.7 670,476.1 680,534.3 690,470.9" fill="none" stroke="#d47ed0" stroke-width="1" shape-rendering="crispEdges"/>
<path d="M48.5,492.2h3M50,490.7v3M58.5,504.2h3M60,502.7v3M68.5,537.8h3M70,536.3v3M78.5,531.5h3M80,530.0v3M88.5,510.7h3M90,509.2v3M98.5,532.5h3M100,531.0v3M108.5,521.8h3M110,520.3v3M118.5,511.0h3M120,509.5v3M128.5,449.6h3M130,448.1v3M138.5,470.6h3M140,469.1v3M148.5,503.1h3M150,501.6v3M158.5,510.1h3M160,508.6v3M168.5,502.1h3M170,500.6v3M178.5,508.3h3M180,506.8v3M188.5,534.2h3M190,532.7v3M198.5,537.5h3M200,536.0v3M208.5,508.1h3M210,506.6v3M218.5,519.9h3M220,518.4v3M228.5,533.8h3M230,532.3v3M238.5,530.5h3M240,529.0v3M248.5,483.8h3M250,482.3v3M258.5,506.2h3M260,504.7v3M268.5,539.5h3M270,538.0v3M278.5,542.6h3M280,541.1v3M288.5,481.9h3M290,480.4v3M298.5,507.8h3M300,506.3v3M308.5,538.9h3M310,537.4v3M318.5,531.8h3M320,530.3v3M328.5,465.8h3M330,464.3v3M338.5,454.7h3M340,453.2v3M348.5,485.2h3M350,483.7v3M358.5,509.7h3M360,508.2v3M368.5,485.5h3M370,484.0v3M378.5,517.4h3M380,515.9v3M388.5,526.5h3M390,525.0v3M398.5,539.1h3M400,537.6v3M408.5,496.1h3M410,494.6v3M418.5,478.0h3M420,476.5v3M428.5,523.0h3M430,521.5v3M438.5,535.9h3M440,534.4v3M448.5,523.9h3M450,522.4v3M458.5,497.7h3M460,496.2v3M468.5,535.6h3M470,534.1v3M478.5,541.2h3M480,539.7v3M488.5,523.0h3M490,521.5v3M498.5,524.1h3M500,522.6v3M508.5,541.4h3M510,539.9v3M518.5,539.9h3M520,538.4v3M528.5,518.4h3M530,516.9v3M538.5,534.2h3M540,532.7v3M548.5,537.9h3M550,536.4v3M558.5,534.3h3M560,532.8v3M568.5,523.0h3M570,521.5v3M578.5,528.2h3M580,526.7v3M588.5,539.9h3M590,538.4v3M598.5,534.7h3M600,533.2v3M608.5,479.3h3M610,477.8v3M618.5,459.6h3M620,458.1v3M628.5,479.8h3M630,478.3v3M638.5,491.7h3M640,490.2v3M648.5,453.7h3M650,452.2v3M658.5,468.7h3M660,467.2v3M668.5,476.1h3M670,474.6v3M678.5,534.3h3M680,532.8v3M688.5,470.9h3M690,469.4v3" stroke="#d47ed0" stroke-width="1" fill="none" shape-rendering="crispEdges"/>
<polyline points="50,497.7 60,510.1 70,537.6 80,539.9 90,506.5 100,509.1 110,501.5 120,516.4 130,458.3 140,488.4 150,535.3 160,540.5 170,488.5 180,513.7 190,519.6 200,525.2 210,512.2 220,513.8 230,532.6 240,538.0 250,490.4 260,498.2 270,519.4 280,528.7 290,459.5 300,497.7 310,517.6 320,537.6 330,464.0 340,451.7 350,487.1 360,528.4 370,517.8 380,497.3 390,500.5 400,514.9 410,460.0 420,506.4 430,508.2 440,506.6 450,449.6 460,512.1 470,540.6 480,540.7 490,508.3 500,526.5 510,536.1 520,532.1 530,520.5 540,523.8 550,538.6 560,533.1 570,523.4 580,504.5 590,509.8 600,501.9 610,484.6 620,528.9 630,537.8 640,540.8 650,483.5 660,518.1 670,535.5 680,519.9 690,505.9" fill="none" stroke="#1a0a9a" stroke-width="1" stroke-dasharray="2 2" shape-rendering="crispEdges"/>
<path d="M48.5,497.7h3M50,496.2v3M58.5,510.1h3M60,508.6v3M68.5,537.6h3M70,536.1v3M78.5,539.9h3M80,538.4v3M88.5,506.5h3M90,505.0v3M98.5,509.1h3M100,507.6v3M108.5,501.5h3M110,500.0v3M118.5,516.4h3M120,514.9v3M128.5,458.3h3M130,456.8v3M138.5,488.4h3M140,486.9v3M148.5,535.3h3M150,533.8v3M158.5,540.5h3M160,539.0v3M168.5,488.5h3M170,487.0v3M178.5,513.7h3M180,512.2v3M188.5,519.6h3M190,518.1v3M198.5,525.2h3M200,523.7v3M208.5,512.2h3M210,510.7v3M218.5,513.8h3M220,512.3v3M228.5,532.6h3M230,531.1v3M238.5,538.0h3M240,536.5v3M248.5,490.4h3M250,488.9v3M258.5,498.2h3M260,496.7v3M268.5,519.4h3M270,517.9v3M278.5,528.7h3M280,527.2v3M288.5,459.5h3M290,458.0v3M298.5,497.7h3M300,496.2v3M308.5,517.6h3M310,516.1v3M318.5,537.6h3M320,536.1v3M328.5,464.0h3M330,462.5v3M338.5,451.7h3M340,450.2v3M348.5,487.1h3M350,485.6v3M358.5,528.4h3M360,526.9v3M368.5,517.8h3M370,516.3v3M378.5,497.3h3M380,495.8v3M388.5,500.5h3M390,499.0v3M398.5,514.9h3M400,513.4v3M408.5,460.0h3M410,458.5v3M418.5,506.4h3M420,504.9v3M428.5,508.2h3M430,506.7v3M438.5,506.6h3M440,505.1v3M448.5,449.6h3M450,448.1v3M458.5,512.1h3M460,510.6v3M468.5,540.6h3M470,539.1v3M478.5,540.7h3M480,539.2v3M488.5,508.3h3M490,506.8v3M498.5,526.5h3M500,525.0v3M508.5,536.1h3M510,534.6v3M518.5,532.1h3M520,530.6v3M528.5,520.5h3M530,519.0v3M538.5,523.8h3M540,522.3v3M548.5,538.6h3M550,537.1v3M558.5,533.1h3M560,531.6v3M568.5,523.4h3M570,521.9v3M578.5,504.5h3M580,503.0v3M588.5,509.8h3M590,508.3v3M598.5,501.9h3M600,500.4v3M608.5,484.6h3M610,483.1v3M618.5,528.9h3M620,527.4v3M628.5,537.8h3M630,536.3v3M638.5,540.8h3M640,539.3v3M648.5,483.5h3M650,482.0v3M658.5,518.1h3M660,516.6v3M668.5,535.5h3M670,534.0v3M678.5,519.9h3M680,518.4v3M688.5,505.9h3M690,504.4v3" stroke="#1a0a9a" stroke-width="1" fill="none" shape-rendering="crispEdges"/>
<polyline points="50,487.1 60,504.9 70,534.2 80,519.9 90,486.6 100,508.6 110,500.9 120,525.8 130,470.5 140,497.7 150,505.1 160,529.4 170,471.0 180,495.4 190,528.7 200,526.1 210,499.8 220,495.5 230,522.1 240,528.8 250,476.6 260,485.2 270,526.4 280,530.4 290,500.9 300,505.8 310,520.1 320,532.1 330,475.4 340,475.2 350,498.3 360,466.7 370,460.3 380,482.2 390,500.3 400,533.1 410,475.9 420,469.8 430,536.5 440,531.8 450,447.6 460,461.1 470,511.9 480,480.5 490,486.4 500,491.7 510,498.5 520,508.6 530,500.0 540,473.4 550,506.0 560,510.3 570,501.0 580,461.7 590,485.5 600,484.5 610,456.0 620,513.6 630,531.4 640,536.1 650,490.3 660,509.9 670,532.5 680,534.4 690,525.9" fill="none" stroke="#e2cca4" stroke-width="1" shape-rendering="crispEdges"/>
<path d="M48.5,487.1h3M50,485.6v3M58.5,504.9h3M60,503.4v3M68.5,534.2h3M70,532.7v3M78.5,519.9h3M80,518.4v3M88.5,486.6h3M90,485.1v3M98.5,508.6h3M100,507.1v3M108.5,500.9h3M110,499.4v3M118.5,525.8h3M120,524.3v3M128.5,470.5h3M130,469.0v3M138.5,497.7h3M140,496.2v3M148.5,505.1h3M150,503.6v3M158.5,529.4h3M160,527.9v3M168.5,471.0h3M170,469.5v3M178.5,495.4h3M180,493.9v3M188.5,528.7h3M190,527.2v3M198.5,526.1h3M200,524.6v3M208.5,499.8h3M210,498.3v3M218.5,495.5h3M220,494.0v3M228.5,522.1h3M230,520.6v3M238.5,528.8h3M240,527.3v3M248.5,476.6h3M250,475.1v3M258.5,485.2h3M260,483.7v3M268.5,526.4h3M270,524.9v3M278.5,530.4h3M280,528.9v3M288.5,500.9h3M290,499.4v3M298.5,505.8h3M300,504.3v3M308.5,520.1h3M310,518.6v3M318.5,532.1h3M320,530.6v3M328.5,475.4h3M330,473.9v3M338.5,475.2h3M340,473.7v3M348.5,498.3h3M350,496.8v3M358.5,466.7h3M360,465.2v3M368.5,460.3h3M370,458.8v3M378.5,482.2h3M380,480.7v3M388.5,500.3h3M390,498.8v3M398.5,533.1h3M400,531.6v3M408.5,475.9h3M410,474.4v3M418.5,469.8h3M420,468.3v3M428.5,536.5h3M430,535.0v3M438.5,531.8h3M440,530.3v3M448.5,447.6h3M450,446.1v3M458.5,461.1h3M460,459.6v3M468.5,511.9h3M470,510.4v3M478.5,480.5h3M480,479.0v3M488.5,486.4h3M490,484.9v3M498.5,491.7h3M500,490.2v3M508.5,498.5h3M510,497.0v3M518.5,508.6h3M520,507.1v3M528.5,500.0h3M530,498.5v3M538.5,473.4h3M540,471.9v3M548.5,506.0h3M550,504.5v3M558.5,510.3h3M560,508.8v3M568.5,501.0h3M570,499.5v3M578.5,461.7h3M580,460.2v3M588.5,485.5h3M590,484.0v3M598.5,484.5h3M600,483.0v3M608.5,456.0h3M610,454.5v3M618.5,513.6h3M620,512.1v3M628.5,531.4h3M630,529.9v3M638.5,536.1h3M640,534.6v3M648.5,490.3h3M650,488.8v3M658.5,509.9h3M660,508.4v3M668.5,532.5h3M670,531.0v3M678.5,534.4h3M680,532.9v3M688.5,525.9h3M690,524.4v3" stroke="#e2cca4" stroke-width="1" fill="none" shape-rendering="crispEdges"/>
<polyline points="50,491.1 60,507.4 70,535.4 80,524.8 90,484.0 100,496.0 110,475.0 120,510.0 130,469.5 140,494.0 150,531.3 160,521.8 170,484.6 180,522.6 190,508.2 200,527.1 210,513.6 220,504.2 230,524.1 240,525.0 250,481.1 260,502.3 270,524.3 280,534.9 290,451.7 300,468.5 310,522.8 320,523.9 330,471.3 340,497.8 350,529.1 360,535.8 370,507.8 380,506.3 390,535.1 400,531.6 410,509.9 420,512.2 430,515.2 440,527.2 450,476.9 460,467.8 470,505.3 480,515.1 490,472.6 500,475.3 510,534.0 520,511.7 530,496.4 540,490.3 550,530.5 560,531.9 570,521.7 580,503.0 590,541.5 600,535.0 610,465.5 620,449.4 630,509.0 640,497.4 650,452.6 660,489.0 670,529.0 680,514.9 690,475.5" fill="none" stroke="#8a0000" stroke-width="1" shape-rendering="crispEdges"/>
<path d="M48.5,491.1h3M50,489.6v3M58.5,507.4h3M60,505.9v3M68.5,535.4h3M70,533.9v3M78.5,524.8h3M80,523.3v3M88.5,484.0h3M90,482.5v3M98.5,496.0h3M100,494.5v3M108.5,475.0h3M110,473.5v3M118.5,510.0h3M120,508.5v3M128.5,469.5h3M130,468.0v3M138.5,494.0h3M140,492.5v3M148.5,531.3h3M150,529.8v3M158.5,521.8h3M160,520.3v3M168.5,484.6h3M170,483.1v3M178.5,522.6h3M180,521.1v3M188.5,508.2h3M190,506.7v3M198.5,527.1h3M200,525.6v3M208.5,513.6h3M210,512.1v3M218.5,504.2h3M220,502.7v3M228.5,524.1h3M230,522.6v3M238.5,525.0h3M240,523.5v3M248.5,481.1h3M250,479.6v3M258.5,502.3h3M260,500.8v3M268.5,524.3h3M270,522.8v3M278.5,534.9h3M280,533.4v3M288.5,451.7h3M290,450.2v3M298.5,468.5h3M300,467.0v3M308.5,522.8h3M310,521.3v3M318.5,523.9h3M320,522.4v3M328.5,471.3h3M330,469.8v3M338.5,497.8h3M340,496.3v3M348.5,529.1h3M350,527.6v3M358.5,535.8h3M360,534.3v3M368.5,507.8h3M370,506.3v3M378.5,506.3h3M380,504.8v3M388.5,535.1h3M390,533.6v3M398.5,531.6h3M400,530.1v3M408.5,509.9h3M410,508.4v3M418.5,512.2h3M420,510.7v3M428.5,515.2h3M430,513.7v3M438.5,527.2h3M440,525.7v3M448.5,476.9h3M450,475.4v3M458.5,467.8h3M460,466.3v3M468.5,505.3h3M470,503.8v3M478.5,515.1h3M480,513.6v3M488.5,472.6h3M490,471.1v3M498.5,475.3h3M500,473.8v3M508.5,534.0h3M510,532.5v3M518.5,511.7h3M520,510.2v3M528.5,496.4h3M530,494.9v3M538.5,490.3h3M540,488.8v3M548.5,530.5h3M550,529.0v3M558.5,531.9h3M560,530.4v3M568.5,521.7h3M570,520.2v3M578.5,503.0h3M580,501.5v3M588.5,541.5h3M590,540.0v3M598.5,535.0h3M600,533.5v3M608.5,465.5h3M610,464.0v3M618.5,449.4h3M620,447.9v3M628.5,509.0h3M630,507.5v3M638.5,497.4h3M640,495.9v3M648.5,452.6h3M650,451.1v3M658.5,489.0h3M660,487.5v3M668.5,529.0h3M670,527.5v3M678.5,514.9h3M680,513.4v3M688.5,475.5h3M690,474.0v3" stroke="#8a0000" stroke-width="1" fill="none" shape-rendering="crispEdges"/>
<polyline points="50,498.9 60,509.1 70,527.5 80,519.7 90,504.6 100,522.7 110,518.4 120,519.3 130,461.0 140,489.4 150,529.6 160,524.8 170,507.5 180,512.7 190,533.3 200,534.2 210,522.2 220,518.4 230,530.7 240,529.6 250,472.0 260,496.6 270,532.6 280,515.3 290,469.0 300,490.1 310,506.6 320,481.1 330,444.2 340,452.9 350,485.8 360,506.5 370,470.4 380,515.5 390,526.7 400,522.4 410,490.3 420,503.1 430,529.9 440,520.6 450,489.0 460,510.7 470,525.2 480,524.0 490,515.3 500,489.4 510,526.1 520,509.7 530,496.5 540,524.3 550,497.3 560,527.9 570,500.2 580,515.2 590,540.3 600,522.6 610,494.1 620,502.0 630,466.6 640,499.8 650,478.7 660,493.2 670,521.7 680,494.3 690,441.5" fill="none" stroke="#0a30b8" stroke-width="1" shape-rendering="crispEdges"/>
<path d="M48.5,498.9h3M50,497.4v3M58.5,509.1h3M60,507.6v3M68.5,527.5h3M70,526.0v3M78.5,519.7h3M80,518.2v3M88.5,504.6h3M90,503.1v3M98.5,522.7h3M100,521.2v3M108.5,518.4h3M110,516.9v3M118.5,519.3h3M120,517.8v3M128.5,461.0h3M130,459.5v3M138.5,489.4h3M140,487.9v3M148.5,529.6h3M150,528.1v3M158.5,524.8h3M160,523.3v3M168.5,507.5h3M170,506.0v3M178.5,512.7h3M180,511.2v3M188.5,533.3h3M190,531.8v3M198.5,534.2h3M200,532.7v3M208.5,522.2h3M210,520.7v3M218.5,518.4h3M220,516.9v3M228.5,530.7h3M230,529.2v3M238.5,529.6h3M240,528.1v3M248.5,472.0h3M250,470.5v3M258.5,496.6h3M260,495.1v3M268.5,532.6h3M270,531.1v3M278.5,515.3h3M280,513.8v3M288.5,469.0h3M290,467.5v3M298.5,490.1h3M300,488.6v3M308.5,506.6h3M310,505.1v3M318.5,481.1h3M320,479.6v3M328.5,444.2h3M330,442.7v3M338.5,452.9h3M340,451.4v3M348.5,485.8h3M350,484.3v3M358.5,506.5h3M360,505.0v3M368.5,470.4h3M370,468.9v3M378.5,515.5h3M380,514.0v3M388.5,526.7h3M390,525.2v3M398.5,522.4h3M400,520.9v3M408.5,490.3h3M410,488.8v3M418.5,503.1h3M420,501.6v3M428.5,529.9h3M430,528.4v3M438.5,520.6h3M440,519.1v3M448.5,489.0h3M450,487.5v3M458.5,510.7h3M460,509.2v3M468.5,525.2h3M470,523.7v3M478.5,524.0h3M480,522.5v3M488.5,515.3h3M490,513.8v3M498.5,489.4h3M500,487.9v3M508.5,526.1h3M510,524.6v3M518.5,509.7h3M520,508.2v3M528.5,496.5h3M530,495.0v3M538.5,524.3h3M540,522.8v3M548.5,497.3h3M550,495.8v3M558.5,527.9h3M560,526.4v3M568.5,500.2h3M570,498.7v3M578.5,515.2h3M580,513.7v3M588.5,540.3h3M590,538.8v3M598.5,522.6h3M600,521.1v3M608.5,494.1h3M610,492.6v3M618.5,502.0h3M620,500.5v3M628.5,466.6h3M630,465.1v3M638.5,499.8h3M640,498.3v3M648.5,478.7h3M650,477.2v3M658.5,493.2h3M660,491.7v3M668.5,521.7h3M670,520.2v3M678.5,494.3h3M680,492.8v3M688.5,441.5h3M690,440.0v3" stroke="#0a30b8" stroke-width="1" fill="none" shape-rendering="crispEdges"/>
<polyline points="50,492.3 60,506.7 70,535.3 80,531.4 90,503.9 100,516.4 110,522.0 120,533.0 130,458.9 140,480.8 150,527.7 160,520.5 170,495.5 180,501.0 190,528.7 200,529.6 210,493.4 220,502.4 230,529.1 240,536.1 250,485.0 260,496.5 270,532.3 280,523.8 290,472.3 300,481.5 310,510.7 320,526.7 330,463.9 340,484.7 350,530.2 360,530.6 370,480.3 380,507.7 390,522.5 400,525.1 410,476.4 420,498.4 430,527.5 440,530.3 450,494.9 460,487.2 470,518.8 480,511.8 490,484.6 500,486.9 510,513.8 520,521.2 530,481.5 540,500.0 550,496.0 560,492.0 570,460.0 580,492.1 590,520.0 600,540.0 610,447.0 620,477.3 630,522.1 640,503.8 650,490.2 660,492.9 670,497.1 680,515.8 690,481.0" fill="none" stroke="#000" stroke-width="2" shape-rendering="crispEdges"/>
<polyline points="50,491.6 60,505.2 70,531.9 80,530.6 90,496.5 100,509.5 110,512.6 120,513.1 130,455.0 140,480.4 150,516.9 160,523.6 170,498.0 180,502.6 190,529.8 200,526.9 210,496.2 220,501.5 230,530.6 240,536.1 250,483.7 260,501.6 270,529.0 280,531.9 290,461.7 300,485.7 310,523.1 320,524.8 330,468.4 340,481.4 350,518.0 360,515.3 370,480.2 380,505.7 390,516.7 400,527.5 410,447.0 420,459.0 430,500.0 440,503.0 450,440.0 460,489.7 470,527.0 480,510.1 490,493.5 500,487.9 510,519.7 520,525.2 530,485.4 540,489.1 550,506.8 560,518.1 570,476.6 580,482.9 590,517.4 600,521.9 610,485.9 620,487.9 630,516.4 640,505.1 650,485.5 660,481.4 670,511.2 680,519.1 690,472.7" fill="none" stroke="#0000ff" stroke-width="2" shape-rendering="crispEdges"/>
<polyline points="50,491.7 60,506.0 70,533.5 80,527.0 90,502.0 100,509.5 110,509.0 120,515.5 130,454.5 140,479.0 150,524.5 160,525.0 170,496.0 180,503.0 190,528.5 200,529.0 210,499.5 220,504.7 230,530.6 240,533.8 250,483.0 260,500.0 270,530.0 280,530.0 290,468.5 300,491.0 310,521.0 320,522.0 330,470.0 340,492.0 350,525.0 360,527.0 370,484.0 380,501.5 390,522.0 400,523.0 410,483.0 420,492.4 430,525.5 440,525.5 450,484.4 460,491.2 470,522.0 480,522.0 490,491.2 500,494.6 510,518.6 520,519.8 530,491.2 540,496.0 550,518.7 560,517.5 570,487.5 580,492.5 590,517.5 600,515.0 610,488.0 620,491.0 630,514.0 640,513.0 650,483.3 660,486.0 670,509.0 680,510.3 690,484.6" fill="none" stroke="#ff0000" stroke-width="3" stroke-linejoin="round" shape-rendering="crispEdges"/>
<polygon points="49,562 52,563.5 73,564 73,569.3 67,570.3 59,571.7 52,567.4" fill="#0000ff"/>
<polygon points="77,564 89.5,562.7 93,564 96,566 107.5,582 105,581 91.4,570.3 79,576.5 77.5,571" fill="#0000ff"/>
<polygon points="129,566 131,561 148,546 157,566" fill="#0000ff"/>
<polygon points="170,563 203,563 203,566 181,576 168,567" fill="#0000ff"/>
<polygon points="207,563 237,564 230,571 223,577.5 210,567" fill="#0000ff"/>
<polygon points="250,563 279,563 279,567 261,571 250,567" fill="#0000ff"/>
<polygon points="288,566 291,561 297,557 306,558.5 327,562.5 327,565.5" fill="#0000ff"/>
<polygon points="330,563 342,554.5 350,557 368,564 368,566 350,568 330,567" fill="#0000ff"/>
<polygon points="370,563 379,557 408,564 408,566 381,568.5 370,568" fill="#0000ff"/>
<polygon points="410,563 416,561 428,562 439,564 439,566 421,573 410,567" fill="#0000ff"/>
<polygon points="450,563 452,561 469,562.7 479,565 475,567.6 463.5,578 450,567" fill="#0000ff"/>
<polygon points="490,563 496,561 503,562 514,564.5 503,577.3 490,567" fill="#0000ff"/>
<polygon points="526,561 534,562 549,564 548,578 546,580 530,567" fill="#0000ff"/>
<polygon points="564,564 570,562 574,561 579,562.7 584,565 585,574 587,581.3 570,567 564,566" fill="#0000ff"/>
<polygon points="603,564 610,562.7 615,564 625,564 624.3,578 610,567 603,566" fill="#0000ff"/>
<polygon points="638,566 644,563.5 650,561 655,562 668,564.3 660.5,572.4 659,574 650,567 644,568.4" fill="#0000ff"/>
<polygon points="680,565 685,563.5 690,562 698,562.7 711,564.3 704.3,570 699.5,574 690,567 685,566.8" fill="#0000ff"/>
<path d="M35.5,565.5h31M50.5,550.5v31M39.5,554.5l22,22M39.5,576.5l22,-22M75.5,565.5h31M90.5,550.5v31M79.5,554.5l22,22M79.5,576.5l22,-22M115.5,565.5h31M130.5,550.5v31M119.5,554.5l22,22M119.5,576.5l22,-22M155.5,565.5h31M170.5,550.5v31M159.5,554.5l22,22M159.5,576.5l22,-22M195.5,565.5h31M210.5,550.5v31M199.5,554.5l22,22M199.5,576.5l22,-22M235.5,565.5h31M250.5,550.5v31M239.5,554.5l22,22M239.5,576.5l22,-22M275.5,565.5h31M290.5,550.5v31M279.5,554.5l22,22M279.5,576.5l22,-22M315.5,565.5h31M330.5,550.5v31M319.5,554.5l22,22M319.5,576.5l22,-22M355.5,565.5h31M370.5,550.5v31M359.5,554.5l22,22M359.5,576.5l22,-22M395.5,565.5h31M410.5,550.5v31M399.5,554.5l22,22M399.5,576.5l22,-22M435.5,565.5h31M450.5,550.5v31M439.5,554.5l22,22M439.5,576.5l22,-22M475.5,565.5h31M490.5,550.5v31M479.5,554.5l22,22M479.5,576.5l22,-22M515.5,565.5h31M530.5,550.5v31M519.5,554.5l22,22M519.5,576.5l22,-22M555.5,565.5h31M570.5,550.5v31M559.5,554.5l22,22M559.5,576.5l22,-22M595.5,565.5h31M610.5,550.5v31M599.5,554.5l22,22M599.5,576.5l22,-22M635.5,565.5h31M650.5,550.5v31M639.5,554.5l22,22M639.5,576.5l22,-22M675.5,565.5h31M690.5,550.5v31M679.5,554.5l22,22M679.5,576.5l22,-22" stroke="#000" stroke-width="1" fill="none"/>
<g fill="#000"><circle cx="50.5" cy="565.5" r="2.1"/><circle cx="90.5" cy="565.5" r="2.1"/><circle cx="130.5" cy="565.5" r="2.1"/><circle cx="170.5" cy="565.5" r="2.1"/><circle cx="210.5" cy="565.5" r="2.1"/><circle cx="250.5" cy="565.5" r="2.1"/><circle cx="290.5" cy="565.5" r="2.1"/><circle cx="330.5" cy="565.5" r="2.1"/><circle cx="370.5" cy="565.5" r="2.1"/><circle cx="410.5" cy="565.5" r="2.1"/><circle cx="450.5" cy="565.5" r="2.1"/><circle cx="490.5" cy="565.5" r="2.1"/><circle cx="530.5" cy="565.5" r="2.1"/><circle cx="570.5" cy="565.5" r="2.1"/><circle cx="610.5" cy="565.5" r="2.1"/><circle cx="650.5" cy="565.5" r="2.1"/><circle cx="690.5" cy="565.5" r="2.1"/></g>
<text x="89" y="549" font-size="8.5" textLength="5" lengthAdjust="spacingAndGlyphs" font-weight="bold">N</text>
<text x="107" y="570" font-size="8.5" textLength="5" lengthAdjust="spacingAndGlyphs" font-weight="bold">E</text>
<text x="89" y="589" font-size="8.5" textLength="5" lengthAdjust="spacingAndGlyphs" font-weight="bold">S</text>
<text x="73" y="570" font-size="8.5" textLength="5" lengthAdjust="spacingAndGlyphs" font-weight="bold">W</text>
<rect x="35" y="630" width="31" height="4" fill="#ff0000"/>
<text x="74" y="641" font-size="12" textLength="126" lengthAdjust="spacingAndGlyphs">Moyenne des scénarios</text>
<rect x="225" y="635" width="31" height="4" fill="#0000ff"/>
<rect x="225" y="645" width="31" height="4" fill="#000"/>
<text x="264" y="641" font-size="12" textLength="90" lengthAdjust="spacingAndGlyphs">Run de contrôle</text>
<text x="264" y="651" font-size="12" textLength="42" lengthAdjust="spacingAndGlyphs">Run GFS</text>
<text x="180" y="664" font-size="12" textLength="150" lengthAdjust="spacingAndGlyphs">Altitude du modele : 166m</text>
<text x="339" y="656" font-size="12" textLength="54" lengthAdjust="spacingAndGlyphs">30 Perts.</text>
<rect x="400" y="650" width="10" height="6" fill="#e57c30"/>
<text x="400.5" y="646.5" font-size="7.5" textLength="9.0" lengthAdjust="spacingAndGlyphs" font-weight="bold">01</text>
<rect x="411" y="650" width="10" height="6" fill="#7fc266"/>
<text x="411.5" y="646.5" font-size="7.5" textLength="9.0" lengthAdjust="spacingAndGlyphs" font-weight="bold">02</text>
<rect x="422" y="650" width="10" height="6" fill="#f2c200"/>
<text x="422.5" y="646.5" font-size="7.5" textLength="9.0" lengthAdjust="spacingAndGlyphs" font-weight="bold">03</text>
<rect x="433" y="650" width="10" height="6" fill="#8a4aaa"/>
<text x="433.5" y="646.5" font-size="7.5" textLength="9.0" lengthAdjust="spacingAndGlyphs" font-weight="bold">04</text>
<rect x="444" y="650" width="10" height="6" fill="#ad4e0a"/>
<text x="444.5" y="646.5" font-size="7.5" textLength="9.0" lengthAdjust="spacingAndGlyphs" font-weight="bold">05</text>
<rect x="455" y="650" width="10" height="6" fill="#4f7f00"/>
<text x="455.5" y="646.5" font-size="7.5" textLength="9.0" lengthAdjust="spacingAndGlyphs" font-weight="bold">06</text>
<rect x="466" y="650" width="10" height="6" fill="#0a7fff"/>
<text x="466.5" y="646.5" font-size="7.5" textLength="9.0" lengthAdjust="spacingAndGlyphs" font-weight="bold">07</text>
<rect x="477" y="650" width="10" height="6" fill="#e8d6a8"/>
<text x="477.5" y="646.5" font-size="7.5" textLength="9.0" lengthAdjust="spacingAndGlyphs" font-weight="bold">08</text>
<rect x="488" y="650" width="10" height="6" fill="#3a8abf"/>
<text x="488.5" y="646.5" font-size="7.5" textLength="9.0" lengthAdjust="spacingAndGlyphs" font-weight="bold">09</text>
<rect x="499" y="650" width="10" height="6" fill="#e8a850"/>
<text x="499.5" y="646.5" font-size="7.5" textLength="9.0" lengthAdjust="spacingAndGlyphs" font-weight="bold">10</text>
<rect x="510" y="650" width="10" height="6" fill="#5c4518"/>
<text x="510.5" y="646.5" font-size="7.5" textLength="9.0" lengthAdjust="spacingAndGlyphs" font-weight="bold">11</text>
<rect x="521" y="650" width="10" height="6" fill="#f56018"/>
<text x="521.5" y="646.5" font-size="7.5" textLength="9.0" lengthAdjust="spacingAndGlyphs" font-weight="bold">12</text>
<rect x="532" y="650" width="10" height="6" fill="#d4bf78"/>
<text x="532.5" y="646.5" font-size="7.5" textLength="9.0" lengthAdjust="spacingAndGlyphs" font-weight="bold">13</text>
<rect x="543" y="650" width="10" height="6" fill="#00dd60"/>
<text x="543.5" y="646.5" font-size="7.5" textLength="9.0" lengthAdjust="spacingAndGlyphs" font-weight="bold">14</text>
<rect x="554" y="650" width="10" height="6" fill="#1e3c58"/>
<text x="554.5" y="646.5" font-size="7.5" textLength="9.0" lengthAdjust="spacingAndGlyphs" font-weight="bold">15</text>
<rect x="565" y="650" width="10" height="6" fill="#6a7580"/>
<text x="565.5" y="646.5" font-size="7.5" textLength="9.0" lengthAdjust="spacingAndGlyphs" font-weight="bold">16</text>
<rect x="576" y="650" width="10" height="6" fill="#e07cf0"/>
<text x="576.5" y="646.5" font-size="7.5" textLength="9.0" lengthAdjust="spacingAndGlyphs" font-weight="bold">17</text>
<rect x="587" y="650" width="10" height="6" fill="#7a1ef0"/>
<text x="587.5" y="646.5" font-size="7.5" textLength="9.0" lengthAdjust="spacingAndGlyphs" font-weight="bold">18</text>
<rect x="598" y="650" width="10" height="6" fill="#7a5a2a"/>
<text x="598.5" y="646.5" font-size="7.5" textLength="9.0" lengthAdjust="spacingAndGlyphs" font-weight="bold">19</text>
<rect x="609" y="650" width="10" height="6" fill="#2a0060"/>
<text x="609.5" y="646.5" font-size="7.5" textLength="9.0" lengthAdjust="spacingAndGlyphs" font-weight="bold">20</text>
<rect x="620" y="650" width="10" height="6" fill="#f0d200"/>
<text x="620.5" y="646.5" font-size="7.5" textLength="9.0" lengthAdjust="spacingAndGlyphs" font-weight="bold">21</text>
<rect x="631" y="650" width="10" height="6" fill="#2a66a0"/>
<text x="631.5" y="646.5" font-size="7.5" textLength="9.0" lengthAdjust="spacingAndGlyphs" font-weight="bold">22</text>
<rect x="642" y="650" width="10" height="6" fill="#94561e"/>
<text x="642.5" y="646.5" font-size="7.5" textLength="9.0" lengthAdjust="spacingAndGlyphs" font-weight="bold">23</text>
<rect x="653" y="650" width="10" height="6" fill="#9a8ef0"/>
<text x="653.5" y="646.5" font-size="7.5" textLength="9.0" lengthAdjust="spacingAndGlyphs" font-weight="bold">24</text>
<rect x="664" y="650" width="10" height="6" fill="#a0f040"/>
<text x="664.5" y="646.5" font-size="7.5" textLength="9.0" lengthAdjust="spacingAndGlyphs" font-weight="bold">25</text>
<rect x="675" y="650" width="10" height="6" fill="#d47ed0"/>
<text x="675.5" y="646.5" font-size="7.5" textLength="9.0" lengthAdjust="spacingAndGlyphs" font-weight="bold">26</text>
<rect x="686" y="650" width="10" height="6" fill="#1a0a9a"/>
<text x="686.5" y="646.5" font-size="7.5" textLength="9.0" lengthAdjust="spacingAndGlyphs" font-weight="bold">27</text>
<rect x="697" y="650" width="10" height="6" fill="#e2cca4"/>
<text x="697.5" y="646.5" font-size="7.5" textLength="9.0" lengthAdjust="spacingAndGlyphs" font-weight="bold">28</text>
<rect x="708" y="650" width="10" height="6" fill="#8a0000"/>
<text x="708.5" y="646.5" font-size="7.5" textLength="9.0" lengthAdjust="spacingAndGlyphs" font-weight="bold">29</text>
<rect x="719" y="650" width="10" height="6" fill="#0a30b8"/>
<text x="719.5" y="646.5" font-size="7.5" textLength="9.0" lengthAdjust="spacingAndGlyphs" font-weight="bold">30</text>
<rect x="20.5" y="667.5" width="420" height="32" fill="none" stroke="#000" stroke-width="1"/>
<text x="29.5" y="681" font-size="12" textLength="350" lengthAdjust="spacingAndGlyphs" font-weight="bold">Diagramme des ensembles GEFS sur 384h : 39.4N 0.5W</text>
<text x="30" y="696" font-size="12" textLength="294" lengthAdjust="spacingAndGlyphs">Vitesse (km/h) et direction (°) du vent moyen 10m</text>
<text x="449" y="676" font-size="12" textLength="198" lengthAdjust="spacingAndGlyphs">Ensemble GEFS du 21/04/2026 - 12Z</text>
<text x="449.5" y="696" font-size="12" textLength="189" lengthAdjust="spacingAndGlyphs" font-weight="bold">Copyright 2026 Meteociel.fr</text>
</svg></body></html>
